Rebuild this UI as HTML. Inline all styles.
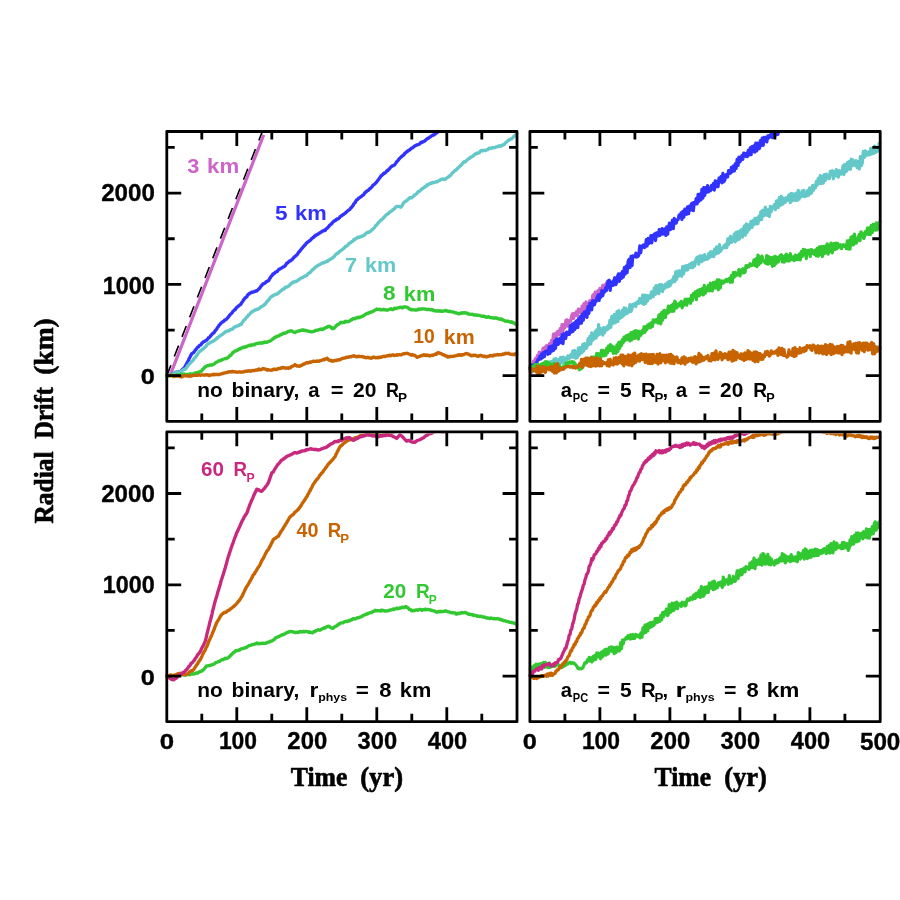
<!DOCTYPE html>
<html><head><meta charset="utf-8"><title>Radial Drift</title>
<style>html,body{margin:0;padding:0;background:#fff}svg{display:block}</style>
</head><body>
<svg width="900" height="900" viewBox="0 0 900 900">
<rect width="900" height="900" fill="#fff"/>
<defs><clipPath id="ctl"><rect x="165.40" y="133.10" width="353.00" height="288.20"/></clipPath><clipPath id="ctr"><rect x="528.50" y="133.10" width="353.10" height="288.20"/></clipPath><clipPath id="cbl"><rect x="165.40" y="433.50" width="353.00" height="288.20"/></clipPath><clipPath id="cbr"><rect x="528.50" y="433.50" width="353.10" height="288.20"/></clipPath></defs>
<g clip-path="url(#ctl)"><line x1="166.8" y1="375.7" x2="263.35" y2="129.0" stroke="#000" stroke-width="1.6" stroke-dasharray="11.7 9.4" stroke-dashoffset="0.5"/><line x1="169.9" y1="375.8" x2="263.7" y2="134.9" stroke="#cd64c8" stroke-width="3.2"/><polyline points="166.8,375.5 167.3,375.5 167.8,375.3 168.3,375.1 168.8,374.7 169.3,374.6 169.8,374.7 170.3,374.7 170.8,374.7 171.3,374.5 171.8,374.4 172.3,374.2 172.8,373.6 173.3,373.7 173.8,373.6 174.3,373.6 174.7,373.0 175.2,372.5 175.7,372.3 176.2,372.2 176.7,372.3 177.1,372.2 177.6,372.3 178.1,372.0 178.6,372.0 179.0,372.0 179.5,371.7 180.0,372.0 180.5,371.6 180.9,371.3 181.4,370.6 181.9,370.0 182.3,369.5 182.8,369.0 183.3,368.7 183.8,368.3 184.2,367.7 184.7,367.1 185.2,366.2 185.6,365.6 186.1,364.6 186.6,363.8 187.1,363.1 187.5,361.9 188.0,361.1 188.5,360.5 188.9,359.1 189.4,358.1 189.9,357.2 190.4,356.2 190.8,355.4 191.3,354.5 191.8,353.7 192.2,353.4 192.7,353.1 193.2,352.8 193.7,352.5 194.1,351.9 194.6,351.3 195.1,350.4 195.5,350.0 196.0,349.3 196.5,348.7 197.0,348.0 197.5,347.4 198.0,347.0 198.5,346.9 199.0,346.0 199.5,345.4 200.0,345.1 200.5,345.1 201.0,344.8 201.5,343.9 202.0,343.0 202.5,342.8 203.0,342.3 203.5,341.7 204.0,341.7 204.5,341.5 205.0,341.1 205.5,340.7 206.0,340.3 206.4,340.2 206.9,339.7 207.4,339.3 207.9,338.8 208.4,337.9 208.9,337.7 209.4,337.4 209.9,337.0 210.4,336.0 210.9,335.4 211.3,335.2 211.8,334.3 212.3,333.9 212.8,333.7 213.3,333.0 213.8,332.7 214.3,332.2 214.7,331.4 215.2,330.8 215.7,330.3 216.2,329.6 216.7,329.1 217.1,328.2 217.6,327.4 218.1,326.9 218.6,326.2 219.0,325.3 219.5,324.9 220.0,324.5 220.5,323.9 221.0,323.1 221.4,322.8 221.9,322.4 222.4,322.0 222.9,321.9 223.3,321.3 223.8,321.2 224.3,320.5 224.8,320.0 225.3,319.8 225.7,319.7 226.2,319.4 226.7,319.0 227.2,318.4 227.7,317.7 228.2,317.2 228.7,316.5 229.2,315.8 229.7,315.3 230.2,314.6 230.7,314.1 231.2,313.6 231.7,313.3 232.2,312.6 232.7,311.7 233.2,311.1 233.7,310.6 234.2,310.3 234.6,309.7 235.1,309.3 235.6,309.2 236.1,308.1 236.6,307.5 237.1,307.1 237.6,306.8 238.1,306.5 238.5,305.9 239.0,305.6 239.5,305.3 240.0,304.7 240.5,304.6 241.0,304.0 241.4,303.2 241.9,302.5 242.4,301.8 242.9,301.2 243.4,300.0 243.9,299.4 244.3,299.1 244.8,298.3 245.3,297.8 245.8,297.5 246.3,297.1 246.8,296.8 247.2,295.8 247.7,295.1 248.2,294.4 248.7,294.0 249.2,294.0 249.7,293.2 250.1,293.3 250.6,292.7 251.1,292.8 251.6,292.2 252.0,292.1 252.5,292.3 253.0,292.0 253.5,291.8 254.0,291.8 254.4,291.5 254.9,291.2 255.4,291.3 255.9,291.2 256.3,290.8 256.8,291.1 257.3,290.4 257.8,290.1 258.3,289.4 258.8,288.9 259.3,288.5 259.8,288.0 260.2,287.5 260.7,286.6 261.2,285.8 261.7,285.5 262.2,284.9 262.7,284.2 263.2,283.6 263.7,283.7 264.2,283.5 264.7,283.4 265.2,282.8 265.7,282.4 266.2,281.7 266.7,281.6 267.2,281.5 267.7,280.9 268.2,280.8 268.7,280.5 269.2,279.7 269.6,278.5 270.1,278.2 270.5,277.5 271.0,276.6 271.5,276.0 271.9,275.5 272.4,275.1 272.8,274.1 273.3,273.6 273.8,273.6 274.3,273.5 274.7,273.0 275.2,272.4 275.7,272.3 276.2,271.9 276.6,271.6 277.1,271.5 277.6,271.0 278.1,270.2 278.6,269.8 279.0,269.2 279.5,269.2 280.0,269.0 280.5,268.6 281.0,268.2 281.5,268.0 282.0,267.7 282.4,267.6 282.9,267.1 283.4,266.9 283.9,266.7 284.4,266.5 284.9,265.8 285.4,265.5 285.9,264.5 286.3,263.9 286.8,263.1 287.3,263.1 287.8,262.5 288.3,262.2 288.8,261.8 289.3,261.4 289.7,260.9 290.2,260.6 290.7,260.7 291.2,260.2 291.6,259.9 292.1,259.6 292.6,259.1 293.1,258.3 293.6,257.8 294.0,257.6 294.5,256.8 295.0,256.4 295.5,256.1 296.0,255.8 296.5,255.2 297.0,254.8 297.4,254.2 297.9,253.4 298.4,252.5 298.9,251.9 299.4,251.7 299.9,251.0 300.4,250.4 300.9,249.7 301.3,249.0 301.8,248.6 302.3,247.9 302.8,247.6 303.3,246.6 303.8,246.3 304.3,245.8 304.7,245.0 305.2,244.8 305.7,244.3 306.2,243.4 306.6,242.9 307.1,242.6 307.6,242.1 308.1,241.9 308.6,241.6 309.0,241.2 309.5,240.7 310.0,240.4 310.5,240.1 311.0,239.6 311.4,238.7 311.9,238.5 312.4,238.3 312.9,237.7 313.4,237.2 313.8,237.2 314.3,236.3 314.8,236.0 315.3,236.1 315.7,235.3 316.2,235.0 316.7,234.9 317.2,234.5 317.7,234.2 318.2,234.1 318.7,233.5 319.1,233.2 319.6,232.9 320.1,232.8 320.6,232.5 321.1,232.1 321.6,231.6 322.1,231.3 322.6,231.3 323.0,231.1 323.5,230.6 324.0,230.2 324.5,230.6 325.0,230.5 325.5,230.1 326.0,228.9 326.5,228.6 327.0,228.2 327.4,228.0 327.9,227.5 328.4,226.9 328.9,226.5 329.4,225.5 329.9,225.2 330.4,224.8 330.9,224.1 331.3,223.9 331.8,223.8 332.3,222.8 332.8,222.2 333.3,221.8 333.8,221.4 334.3,221.0 334.8,220.4 335.3,220.6 335.8,220.4 336.3,219.7 336.8,219.0 337.3,219.1 337.7,218.9 338.2,218.9 338.7,218.6 339.2,217.9 339.7,217.5 340.2,216.6 340.7,216.2 341.2,215.9 341.7,215.7 342.2,215.2 342.7,214.8 343.2,214.6 343.7,214.3 344.1,214.0 344.6,213.6 345.1,213.1 345.6,212.9 346.1,212.5 346.6,211.9 347.1,211.4 347.6,211.0 348.0,210.6 348.5,210.3 349.0,209.9 349.5,209.6 350.0,209.2 350.5,208.3 351.0,207.9 351.4,207.5 351.9,207.0 352.4,206.3 352.9,205.8 353.4,204.9 353.8,203.9 354.3,203.4 354.8,202.7 355.3,202.4 355.7,201.6 356.2,200.5 356.7,199.9 357.2,199.9 357.7,199.4 358.2,198.7 358.7,198.2 359.2,197.9 359.7,197.6 360.2,197.2 360.7,197.0 361.2,196.6 361.7,196.1 362.2,195.6 362.7,195.4 363.2,195.0 363.7,194.6 364.2,193.7 364.7,193.0 365.2,192.7 365.7,192.0 366.2,191.7 366.7,191.2 367.2,190.9 367.7,190.3 368.2,190.3 368.7,190.0 369.1,189.3 369.6,188.7 370.1,188.7 370.6,188.0 371.1,187.6 371.6,187.2 372.1,186.6 372.6,185.7 373.0,185.3 373.5,184.9 374.0,184.6 374.5,184.3 375.0,183.7 375.5,183.3 376.0,182.7 376.5,182.1 377.0,181.5 377.4,180.8 377.9,180.4 378.4,179.6 378.9,178.9 379.4,178.4 379.9,177.6 380.4,177.0 380.9,176.1 381.3,175.6 381.8,175.4 382.3,175.0 382.8,174.5 383.3,174.0 383.8,173.3 384.3,173.4 384.8,173.1 385.3,172.9 385.8,172.2 386.3,171.7 386.8,170.9 387.3,170.7 387.8,170.5 388.3,169.7 388.8,169.3 389.3,169.1 389.8,168.3 390.3,167.6 390.8,167.1 391.3,166.7 391.8,166.2 392.3,165.9 392.8,165.7 393.3,165.6 393.8,165.2 394.3,165.0 394.8,164.7 395.3,163.8 395.8,163.1 396.3,162.3 396.8,161.6 397.3,161.2 397.7,160.7 398.2,160.3 398.7,159.5 399.2,158.8 399.7,158.4 400.2,157.9 400.7,157.4 401.2,156.9 401.7,156.3 402.2,156.1 402.7,155.8 403.2,155.4 403.7,154.8 404.2,154.4 404.7,153.4 405.2,153.0 405.7,152.7 406.2,152.1 406.7,151.9 407.2,151.7 407.7,151.0 408.2,150.7 408.7,150.3 409.2,150.1 409.7,149.9 410.2,149.5 410.7,148.9 411.2,148.5 411.7,148.1 412.2,148.0 412.7,147.8 413.2,147.3 413.7,146.7 414.1,146.5 414.6,146.1 415.1,145.6 415.6,145.5 416.1,145.2 416.6,145.0 417.1,144.9 417.6,144.6 418.0,144.8 418.5,144.4 419.0,144.3 419.5,143.9 420.0,143.8 420.5,142.8 421.0,142.4 421.5,142.2 422.0,142.0 422.5,142.2 423.0,141.8 423.5,141.6 424.0,141.3 424.5,141.1 425.0,140.7 425.5,140.2 426.0,139.8 426.5,139.2 427.0,139.1 427.5,138.4 428.0,138.1 428.5,138.2 429.0,137.7 429.5,137.3 430.0,137.2 430.5,136.8 431.0,136.2 431.5,135.9 432.0,135.7 432.5,135.5 433.0,134.9 433.5,135.0 434.0,134.9 434.5,134.5 435.0,134.1 435.5,133.6 436.0,133.5 436.5,132.9 437.0,132.7 437.5,132.2 438.0,131.6 438.5,131.4 439.0,131.3 439.5,130.9 440.0,130.3 440.5,130.1 441.0,129.7" fill="none" stroke="#3232ff" stroke-width="3.35" stroke-linejoin="round" stroke-linecap="round"/><polyline points="166.8,375.7 167.3,375.2 167.8,375.6 168.3,375.4 168.8,375.2 169.3,374.8 169.8,374.7 170.3,374.4 170.8,374.4 171.3,374.4 171.8,374.3 172.3,374.3 172.8,373.9 173.3,374.2 173.8,373.8 174.3,373.3 174.8,373.1 175.3,372.9 175.8,372.6 176.3,372.5 176.8,372.5 177.3,372.1 177.8,372.0 178.3,372.3 178.8,372.3 179.3,372.0 179.8,371.9 180.3,371.7 180.8,371.5 181.3,371.5 181.8,371.1 182.3,370.3 182.8,370.1 183.3,369.6 183.8,369.6 184.2,369.2 184.7,369.0 185.2,369.2 185.7,368.6 186.2,368.1 186.7,367.5 187.2,366.5 187.7,365.7 188.2,365.4 188.7,364.9 189.2,364.1 189.7,363.4 190.2,363.2 190.7,362.6 191.2,361.9 191.7,361.4 192.2,361.0 192.7,360.7 193.2,360.1 193.7,359.2 194.2,358.4 194.7,358.0 195.2,357.6 195.7,356.8 196.1,356.2 196.6,355.6 197.1,355.0 197.6,354.2 198.1,353.4 198.6,352.7 199.0,351.9 199.5,351.7 200.0,351.3 200.5,350.6 201.0,350.6 201.4,350.3 201.9,349.4 202.4,349.4 202.9,349.1 203.3,349.0 203.8,348.2 204.3,347.8 204.8,347.4 205.3,346.9 205.7,346.5 206.2,346.2 206.7,345.3 207.2,344.7 207.6,344.1 208.1,343.8 208.6,343.5 209.1,343.3 209.5,343.1 210.0,342.9 210.5,342.4 210.9,342.0 211.4,342.0 211.9,341.8 212.4,341.5 212.8,341.1 213.3,341.1 213.8,340.5 214.3,340.3 214.7,340.2 215.2,339.7 215.7,339.4 216.2,338.8 216.7,338.6 217.1,338.3 217.6,337.5 218.1,337.4 218.6,336.8 219.0,336.8 219.5,336.3 220.0,335.9 220.5,335.7 221.0,335.3 221.4,335.0 221.9,334.5 222.4,334.4 222.9,334.0 223.3,333.7 223.8,332.8 224.3,332.8 224.8,332.5 225.3,331.8 225.7,331.6 226.2,331.5 226.7,331.4 227.2,330.9 227.6,331.0 228.1,330.7 228.6,331.0 229.1,330.6 229.5,330.4 230.0,330.0 230.5,329.4 230.9,329.4 231.4,329.3 231.9,329.3 232.4,329.2 232.8,328.6 233.3,328.0 233.8,327.6 234.3,327.2 234.8,326.8 235.3,326.8 235.8,326.7 236.3,326.4 236.8,326.2 237.3,325.9 237.8,325.7 238.3,325.7 238.8,325.6 239.3,325.1 239.8,324.5 240.3,324.6 240.8,324.4 241.3,324.3 241.8,323.2 242.3,322.5 242.8,321.9 243.3,320.9 243.8,320.3 244.3,319.9 244.8,319.5 245.3,319.1 245.8,318.3 246.3,317.4 246.8,317.0 247.3,316.7 247.8,316.2 248.2,315.3 248.7,314.9 249.2,314.6 249.7,314.1 250.2,313.4 250.7,312.9 251.2,312.7 251.6,312.2 252.1,311.5 252.6,311.4 253.1,311.2 253.5,311.0 254.0,310.9 254.5,310.4 254.9,310.1 255.4,309.8 255.9,309.6 256.4,309.7 256.8,309.2 257.3,309.4 257.8,309.2 258.3,308.9 258.8,308.6 259.3,308.5 259.8,308.0 260.3,307.5 260.8,306.8 261.3,306.6 261.8,306.5 262.3,306.3 262.8,306.0 263.3,305.5 263.8,305.2 264.3,304.5 264.8,304.5 265.3,304.0 265.8,303.2 266.3,302.5 266.8,301.7 267.3,301.4 267.8,301.1 268.2,300.1 268.7,299.8 269.2,299.4 269.7,298.6 270.2,297.6 270.7,296.9 271.2,296.6 271.7,296.6 272.1,296.3 272.6,295.7 273.1,295.6 273.6,295.2 274.1,295.3 274.6,294.9 275.0,294.6 275.5,294.3 276.0,294.1 276.5,294.2 277.0,294.1 277.5,293.8 278.0,293.5 278.5,292.8 279.0,292.4 279.5,292.0 280.0,291.5 280.5,291.4 281.0,290.9 281.5,290.4 282.0,289.9 282.5,289.2 283.0,289.2 283.5,289.2 284.0,288.9 284.5,288.4 285.0,287.4 285.5,287.3 286.0,287.3 286.5,287.0 287.0,286.9 287.5,286.8 288.0,286.6 288.5,286.0 289.0,285.8 289.5,285.4 290.0,284.6 290.5,284.2 291.0,283.6 291.5,283.3 292.0,283.2 292.5,282.7 293.0,282.0 293.5,282.2 294.0,282.0 294.5,282.0 295.0,281.4 295.5,281.3 296.0,281.5 296.5,281.5 297.0,280.9 297.5,280.6 298.0,280.1 298.5,279.9 299.0,279.7 299.5,279.3 300.0,278.6 300.5,278.5 301.0,278.0 301.5,277.8 302.0,277.6 302.5,277.6 303.0,277.4 303.5,276.9 304.0,276.6 304.5,276.6 305.0,276.1 305.5,275.8 306.0,275.7 306.5,275.5 307.0,275.2 307.5,274.4 308.0,273.7 308.5,273.4 309.0,273.0 309.5,273.1 310.0,272.4 310.4,272.2 310.9,271.8 311.4,270.9 311.9,270.3 312.4,269.9 312.9,269.4 313.4,269.0 313.9,268.7 314.4,268.2 314.9,267.9 315.4,267.3 315.8,266.8 316.3,266.6 316.8,266.1 317.3,265.8 317.8,265.7 318.3,265.2 318.8,264.9 319.3,264.8 319.8,264.4 320.2,264.4 320.7,263.8 321.2,263.7 321.7,263.3 322.2,262.9 322.7,263.1 323.2,262.6 323.7,262.7 324.1,262.5 324.6,262.5 325.1,261.9 325.6,261.9 326.1,261.8 326.6,261.4 327.1,261.0 327.6,261.2 328.1,260.9 328.5,260.4 329.0,259.9 329.5,259.7 330.0,259.5 330.5,259.1 331.0,259.0 331.5,258.5 332.0,258.1 332.5,258.0 333.0,257.2 333.5,257.0 334.0,256.9 334.5,256.1 335.0,255.4 335.5,254.8 336.0,254.1 336.5,254.0 337.0,253.3 337.5,253.1 338.0,253.2 338.5,252.5 339.0,252.1 339.5,251.4 340.0,251.3 340.5,250.8 341.0,250.4 341.5,250.1 342.0,249.9 342.5,249.4 343.0,249.1 343.5,248.5 344.0,248.2 344.5,247.5 345.0,247.2 345.5,246.4 346.0,246.1 346.5,246.2 347.0,245.8 347.5,245.1 348.0,244.8 348.5,244.2 349.0,243.5 349.5,243.1 350.0,243.0 350.5,242.8 351.0,242.4 351.4,241.9 351.9,241.4 352.4,241.4 352.9,241.1 353.4,240.6 353.8,239.8 354.3,239.3 354.8,239.7 355.3,239.1 355.7,238.8 356.2,238.5 356.7,238.1 357.2,237.9 357.6,237.5 358.1,237.2 358.6,237.5 359.1,237.2 359.5,237.2 360.0,236.7 360.5,236.5 360.9,236.5 361.4,236.6 361.9,236.1 362.4,236.1 362.8,236.0 363.3,235.7 363.8,235.5 364.3,235.0 364.7,234.6 365.2,234.4 365.7,233.5 366.2,233.4 366.6,233.0 367.1,232.6 367.6,232.4 368.1,232.4 368.6,232.1 369.0,232.2 369.5,231.7 370.0,231.2 370.5,231.2 371.0,230.8 371.4,230.5 371.9,229.8 372.4,229.5 372.9,229.0 373.4,228.6 373.8,228.1 374.3,227.8 374.8,227.1 375.3,226.4 375.7,225.6 376.2,225.4 376.7,224.8 377.2,224.1 377.7,223.5 378.2,223.0 378.7,222.3 379.2,221.9 379.7,221.4 380.2,220.9 380.7,220.3 381.2,220.0 381.7,219.5 382.2,219.1 382.7,218.8 383.2,218.4 383.7,217.4 384.2,216.9 384.7,216.4 385.2,216.2 385.7,215.4 386.2,214.9 386.7,214.5 387.2,214.1 387.7,214.0 388.2,213.5 388.7,213.4 389.2,212.6 389.7,211.9 390.2,211.9 390.7,211.6 391.2,211.3 391.7,210.9 392.2,210.6 392.7,209.9 393.2,209.7 393.7,209.1 394.2,209.0 394.7,208.5 395.2,207.6 395.7,207.0 396.2,207.0 396.7,206.5 397.2,206.5 397.6,206.6 398.1,206.5 398.5,206.4 399.0,206.5 399.4,206.6 399.9,206.9 400.3,206.9 400.8,207.3 401.3,206.7 401.8,206.1 402.3,205.2 402.8,204.2 403.3,203.2 403.8,202.7 404.3,202.1 404.8,201.8 405.3,201.3 405.8,201.4 406.3,201.1 406.8,200.6 407.3,199.9 407.7,199.6 408.2,199.3 408.7,198.8 409.2,198.4 409.7,197.7 410.2,197.8 410.7,197.6 411.2,198.0 411.7,197.6 412.2,197.2 412.6,197.0 413.1,196.6 413.6,196.1 414.1,195.6 414.5,195.0 415.0,194.9 415.5,194.6 415.9,194.5 416.4,193.9 416.9,193.3 417.4,192.6 417.8,192.4 418.3,191.6 418.8,191.4 419.3,191.2 419.8,191.1 420.3,190.4 420.8,190.2 421.3,189.6 421.8,189.0 422.3,188.4 422.8,188.3 423.3,188.3 423.8,187.7 424.3,187.2 424.8,186.7 425.3,186.9 425.8,186.7 426.3,186.0 426.8,185.2 427.3,184.7 427.8,184.6 428.3,184.7 428.8,184.4 429.3,184.0 429.7,183.8 430.2,183.3 430.7,183.4 431.2,183.1 431.6,183.3 432.1,182.8 432.6,182.5 433.1,182.6 433.6,182.4 434.0,182.5 434.5,182.5 435.0,182.1 435.5,182.1 436.0,182.1 436.4,181.5 436.9,181.8 437.4,181.7 437.9,181.6 438.4,180.9 438.9,180.6 439.4,180.3 439.8,180.4 440.3,179.9 440.8,179.6 441.3,179.1 441.8,179.2 442.3,179.3 442.8,179.0 443.3,178.9 443.8,179.1 444.3,179.5 444.8,179.5 445.3,179.3 445.8,179.0 446.3,178.4 446.8,177.9 447.3,177.6 447.8,177.2 448.3,177.1 448.8,176.7 449.3,176.0 449.8,175.9 450.3,175.6 450.8,175.1 451.3,174.4 451.8,173.5 452.3,172.9 452.8,172.8 453.3,172.2 453.8,171.5 454.3,171.1 454.8,170.8 455.3,170.5 455.8,170.1 456.3,169.9 456.8,169.1 457.3,168.8 457.8,168.0 458.3,167.7 458.8,167.2 459.3,166.7 459.8,166.4 460.3,165.8 460.8,165.5 461.3,165.0 461.8,164.5 462.3,163.7 462.8,163.0 463.3,162.4 463.8,162.0 464.3,161.7 464.8,162.1 465.3,161.7 465.8,161.4 466.3,160.8 466.8,160.2 467.3,159.8 467.7,159.5 468.2,158.9 468.7,158.9 469.2,158.4 469.7,158.3 470.2,157.4 470.7,157.1 471.2,156.9 471.7,156.6 472.2,156.5 472.7,156.2 473.2,156.0 473.7,155.2 474.2,154.8 474.7,154.1 475.2,154.1 475.7,154.0 476.2,153.7 476.7,153.3 477.2,153.0 477.7,153.2 478.2,153.3 478.7,152.9 479.2,152.8 479.7,152.0 480.2,151.3 480.7,151.0 481.2,150.6 481.7,150.3 482.2,150.3 482.7,151.0 483.1,150.6 483.6,150.5 484.1,150.4 484.6,150.3 485.1,150.4 485.6,150.6 486.1,150.1 486.5,150.0 487.0,149.8 487.5,149.7 488.0,149.2 488.5,148.8 488.9,148.3 489.4,148.5 489.9,148.6 490.4,148.6 490.9,148.0 491.4,148.0 491.9,147.9 492.3,147.7 492.8,147.5 493.3,147.8 493.8,147.8 494.3,147.7 494.8,147.6 495.3,147.3 495.8,147.1 496.3,147.0 496.8,146.9 497.3,146.7 497.8,146.4 498.3,146.2 498.8,145.9 499.3,146.2 499.8,146.0 500.3,145.8 500.8,146.0 501.3,146.0 501.8,145.2 502.3,145.1 502.8,144.9 503.3,145.0 503.8,144.8 504.3,144.4 504.8,143.6 505.3,143.0 505.8,142.6 506.3,142.4 506.8,141.7 507.3,141.3 507.7,140.9 508.2,140.6 508.7,140.4 509.2,140.0 509.7,139.4 510.2,139.4 510.7,139.4 511.2,138.9 511.7,138.7 512.2,138.3 512.6,137.9 513.1,137.4 513.5,136.7 514.0,136.3 514.4,136.0 514.9,135.3 515.3,135.2 515.8,135.1 516.2,134.9 516.6,134.7 517.0,134.2" fill="none" stroke="#64c8c8" stroke-width="3.35" stroke-linejoin="round" stroke-linecap="round"/><polyline points="166.8,375.7 167.3,375.5 167.8,375.8 168.3,375.9 168.8,375.6 169.3,375.8 169.8,375.5 170.3,375.6 170.8,375.4 171.3,375.3 171.8,375.4 172.3,375.5 172.8,375.7 173.3,375.4 173.8,375.7 174.3,375.9 174.8,375.7 175.3,375.7 175.8,375.3 176.3,375.2 176.8,374.9 177.3,374.9 177.8,374.9 178.3,375.2 178.8,375.3 179.3,375.3 179.8,375.1 180.3,374.9 180.8,374.8 181.3,374.8 181.8,374.3 182.3,374.5 182.8,374.1 183.3,374.1 183.8,374.1 184.3,374.0 184.8,374.4 185.3,374.4 185.8,374.6 186.3,374.8 186.8,374.5 187.3,374.5 187.8,374.6 188.3,374.4 188.8,374.3 189.3,374.1 189.8,374.0 190.3,373.9 190.8,373.8 191.3,374.0 191.8,374.2 192.3,374.1 192.8,374.0 193.3,374.1 193.8,373.7 194.3,373.3 194.8,373.4 195.3,373.0 195.8,373.1 196.3,372.7 196.8,372.9 197.3,372.5 197.8,372.5 198.3,372.6 198.8,372.2 199.3,372.3 199.8,371.9 200.3,371.4 200.8,371.4 201.3,371.4 201.8,370.9 202.3,369.8 202.8,369.4 203.3,368.9 203.8,368.4 204.2,368.0 204.7,367.2 205.2,366.7 205.7,366.7 206.2,366.5 206.7,365.9 207.2,365.6 207.6,365.6 208.1,365.7 208.6,365.6 209.1,365.2 209.5,365.1 210.0,365.0 210.5,365.1 210.9,365.2 211.4,365.0 211.9,365.1 212.4,364.7 212.8,364.8 213.3,364.4 213.8,364.2 214.3,364.0 214.7,363.5 215.2,363.1 215.7,362.5 216.2,362.3 216.7,362.1 217.1,361.9 217.6,361.8 218.1,361.1 218.6,361.0 219.0,360.9 219.5,360.7 220.0,360.6 220.5,360.8 221.0,360.4 221.5,360.0 222.0,359.7 222.5,359.5 223.0,359.5 223.5,359.1 224.0,359.1 224.5,358.6 225.0,358.6 225.5,358.5 226.0,358.4 226.5,358.6 227.0,358.1 227.5,357.8 228.0,357.6 228.5,357.3 229.0,356.5 229.4,356.1 229.9,355.5 230.4,355.2 230.9,355.1 231.3,354.6 231.8,354.1 232.3,353.6 232.8,352.5 233.3,352.4 233.7,352.1 234.2,351.7 234.7,351.2 235.2,350.9 235.7,350.7 236.2,350.8 236.7,350.5 237.2,350.6 237.7,349.8 238.2,349.5 238.7,349.5 239.2,349.3 239.7,348.8 240.2,348.5 240.7,348.7 241.2,348.2 241.7,347.9 242.2,347.6 242.7,347.4 243.2,347.5 243.7,347.5 244.2,347.0 244.7,347.2 245.2,346.9 245.7,346.7 246.2,346.9 246.7,346.7 247.2,346.3 247.7,346.0 248.2,345.8 248.7,345.5 249.2,345.3 249.7,345.5 250.2,345.4 250.7,345.0 251.2,345.5 251.6,345.1 252.1,344.9 252.6,344.8 253.1,344.8 253.5,344.5 254.0,344.5 254.5,344.7 254.9,344.5 255.4,344.0 255.9,343.9 256.4,343.6 256.8,343.3 257.3,343.3 257.8,343.3 258.3,343.2 258.8,343.3 259.3,343.2 259.8,342.9 260.3,343.1 260.8,343.0 261.3,343.2 261.8,343.0 262.3,343.1 262.8,343.1 263.3,342.4 263.8,342.2 264.3,342.0 264.8,342.5 265.3,342.1 265.8,342.2 266.3,342.3 266.7,342.2 267.2,342.2 267.7,341.8 268.2,341.6 268.6,341.4 269.1,341.3 269.6,341.2 270.1,340.9 270.6,340.6 271.0,340.3 271.5,340.2 272.0,339.6 272.5,339.1 273.0,338.9 273.5,338.5 274.0,338.3 274.5,337.5 275.0,337.3 275.5,337.1 276.0,337.1 276.5,336.5 277.0,336.3 277.5,336.2 278.0,336.1 278.5,336.0 279.0,335.9 279.5,335.3 280.0,335.1 280.5,334.8 281.0,334.4 281.5,334.6 282.0,334.2 282.5,333.8 283.0,333.5 283.5,333.2 284.0,333.3 284.5,333.2 285.0,333.2 285.5,333.0 286.0,332.6 286.5,332.6 287.0,332.2 287.5,331.8 288.0,331.6 288.5,331.4 289.0,331.5 289.5,331.1 290.0,330.9 290.5,331.1 291.0,330.9 291.5,330.9 292.0,331.1 292.5,331.5 293.0,331.7 293.5,332.0 294.0,332.2 294.5,332.3 295.0,332.5 295.5,332.2 296.0,331.8 296.4,331.7 296.9,331.4 297.4,331.3 297.9,331.2 298.4,331.1 298.8,331.1 299.3,330.9 299.8,330.8 300.3,330.4 300.7,330.5 301.2,330.3 301.7,330.4 302.2,329.9 302.7,330.0 303.2,330.3 303.7,330.0 304.2,330.2 304.7,330.4 305.2,330.6 305.7,330.5 306.2,330.7 306.7,330.9 307.2,330.8 307.7,331.1 308.2,331.2 308.7,331.3 309.2,331.3 309.7,331.5 310.2,331.6 310.7,331.8 311.2,331.9 311.7,331.8 312.2,331.6 312.7,331.7 313.2,331.4 313.7,331.3 314.2,331.3 314.7,331.1 315.2,330.4 315.7,330.4 316.2,330.4 316.7,330.3 317.2,330.1 317.7,330.3 318.2,330.1 318.7,329.8 319.2,329.6 319.7,329.6 320.2,329.3 320.7,329.0 321.2,329.4 321.7,329.5 322.2,329.5 322.7,329.4 323.2,329.2 323.7,328.4 324.2,328.4 324.7,328.4 325.2,328.1 325.7,327.4 326.2,327.4 326.7,327.4 327.2,327.0 327.7,326.7 328.2,326.6 328.7,326.3 329.2,326.2 329.7,326.5 330.1,326.9 330.6,327.2 331.1,327.2 331.6,327.3 332.0,328.4 332.5,328.7 333.0,328.6 333.5,328.4 334.0,328.2 334.5,327.8 335.0,327.2 335.5,326.7 336.0,325.9 336.5,325.5 337.0,325.4 337.5,324.6 338.0,324.4 338.5,324.3 339.0,324.2 339.5,323.6 340.0,323.2 340.5,322.6 341.0,322.4 341.5,322.4 342.0,322.8 342.5,322.4 343.0,322.5 343.5,322.4 344.0,322.1 344.5,322.4 345.0,321.5 345.5,321.4 346.0,321.3 346.5,321.6 347.0,321.7 347.5,321.9 348.0,321.5 348.5,321.4 349.0,321.3 349.5,321.0 350.0,320.7 350.5,320.4 351.0,320.0 351.5,319.5 352.0,319.8 352.5,319.4 353.0,318.7 353.5,318.7 354.0,318.6 354.5,318.5 355.0,318.7 355.5,318.4 356.0,318.2 356.5,317.8 357.0,317.6 357.5,317.4 358.0,317.3 358.5,317.8 359.0,317.6 359.5,317.1 360.0,317.3 360.5,317.1 361.0,316.9 361.5,316.6 362.0,316.4 362.4,316.2 362.9,316.1 363.4,315.8 363.9,315.7 364.4,315.1 364.9,314.7 365.4,314.2 365.9,314.1 366.3,314.0 366.8,313.5 367.3,313.3 367.8,313.6 368.3,313.4 368.8,312.8 369.3,312.6 369.8,312.5 370.3,312.2 370.8,312.1 371.3,312.1 371.8,311.9 372.3,311.4 372.7,311.4 373.2,311.2 373.7,311.0 374.2,310.7 374.7,310.3 375.2,309.9 375.7,309.8 376.2,309.6 376.7,309.0 377.2,309.4 377.7,309.3 378.2,309.3 378.7,309.6 379.2,309.2 379.7,309.6 380.2,309.5 380.7,309.8 381.2,309.7 381.7,309.9 382.2,309.9 382.7,309.9 383.2,309.6 383.7,309.3 384.2,309.5 384.7,309.9 385.2,309.8 385.7,310.0 386.2,310.0 386.7,310.1 387.2,310.2 387.7,309.8 388.2,309.8 388.7,309.7 389.2,309.5 389.7,309.3 390.2,309.1 390.7,308.9 391.2,308.7 391.7,309.3 392.2,309.6 392.7,309.5 393.2,309.5 393.7,309.1 394.2,308.4 394.7,308.1 395.2,308.2 395.7,308.6 396.2,308.5 396.7,308.3 397.2,308.2 397.7,308.0 398.1,307.7 398.6,307.7 399.1,307.6 399.6,307.5 400.1,307.3 400.5,307.1 401.0,307.3 401.5,307.6 402.0,307.4 402.4,307.9 402.9,307.3 403.4,307.3 403.9,307.0 404.4,306.9 404.8,306.8 405.3,306.9 405.8,307.0 406.3,307.1 406.8,307.1 407.3,307.4 407.8,307.8 408.3,307.9 408.8,308.4 409.2,309.0 409.7,308.9 410.2,309.3 410.7,309.7 411.2,309.5 411.7,309.9 412.2,309.8 412.7,309.5 413.2,309.9 413.7,309.9 414.1,309.8 414.6,309.8 415.1,310.0 415.6,310.1 416.1,310.1 416.6,310.1 417.1,309.7 417.6,309.6 418.0,309.6 418.5,309.0 419.0,309.5 419.5,309.4 420.0,309.2 420.5,308.9 421.0,309.0 421.5,309.1 422.0,309.0 422.4,309.0 422.9,308.9 423.4,308.8 423.9,308.9 424.4,308.9 424.9,309.1 425.4,309.1 425.9,309.2 426.3,309.3 426.8,309.5 427.3,309.6 427.8,309.5 428.3,309.4 428.8,309.3 429.3,309.4 429.8,309.7 430.3,309.8 430.8,309.8 431.3,309.7 431.8,309.5 432.3,309.8 432.7,310.3 433.2,310.5 433.7,310.3 434.2,310.4 434.7,310.7 435.2,310.6 435.7,310.9 436.2,311.0 436.7,311.0 437.2,310.8 437.7,311.0 438.2,311.1 438.7,310.9 439.2,310.8 439.7,311.0 440.2,311.1 440.7,311.0 441.2,311.4 441.7,311.2 442.2,310.9 442.7,311.2 443.2,311.1 443.7,311.1 444.2,311.0 444.7,310.8 445.2,310.5 445.7,310.5 446.2,310.9 446.7,310.6 447.2,311.1 447.7,311.3 448.2,311.1 448.7,311.4 449.2,311.6 449.7,311.6 450.2,311.3 450.7,311.6 451.2,311.6 451.7,311.9 452.2,311.8 452.7,312.0 453.2,312.1 453.7,312.1 454.2,312.3 454.7,312.6 455.2,312.8 455.7,312.8 456.2,313.1 456.7,313.0 457.2,313.2 457.7,313.3 458.2,313.7 458.7,313.7 459.1,313.7 459.6,313.6 460.1,313.5 460.6,313.0 461.1,313.3 461.6,313.3 462.1,313.1 462.6,312.7 463.0,313.0 463.5,313.0 464.0,312.6 464.5,312.7 465.0,313.0 465.5,313.0 466.0,313.1 466.5,313.1 467.0,313.0 467.5,313.4 468.0,314.1 468.5,314.1 469.0,314.0 469.5,314.2 470.0,314.1 470.5,314.3 471.0,314.5 471.5,314.3 472.0,314.2 472.5,314.3 473.0,314.6 473.5,314.8 474.0,315.1 474.5,314.9 475.0,315.1 475.5,315.0 476.0,315.2 476.5,315.3 476.9,315.2 477.4,315.2 477.9,315.1 478.4,315.3 478.9,315.3 479.4,315.4 479.9,315.6 480.4,315.6 480.9,316.0 481.3,315.9 481.8,316.2 482.3,316.4 482.8,316.2 483.3,316.3 483.8,316.2 484.3,316.3 484.8,316.4 485.2,316.9 485.7,316.9 486.2,317.3 486.7,317.4 487.2,317.1 487.7,316.7 488.1,317.0 488.6,316.7 489.1,317.0 489.6,317.4 490.1,317.6 490.6,317.6 491.1,317.6 491.5,317.7 492.0,317.7 492.5,317.7 493.0,317.7 493.5,318.1 493.9,318.0 494.4,318.2 494.9,318.0 495.4,318.0 495.9,317.8 496.4,318.0 496.9,318.3 497.3,318.5 497.8,318.4 498.3,318.7 498.8,318.7 499.3,319.0 499.8,319.1 500.3,319.4 500.8,318.9 501.3,318.9 501.8,319.3 502.3,319.4 502.7,320.1 503.2,320.1 503.7,320.1 504.2,320.5 504.7,320.7 505.2,321.1 505.7,321.2 506.2,321.1 506.7,321.3 507.2,321.2 507.7,321.2 508.1,321.2 508.6,321.3 509.1,321.7 509.6,321.7 510.1,321.9 510.5,322.0 511.0,322.3 511.5,321.8 512.0,322.1 512.4,322.3 512.9,322.3 513.4,322.8 513.9,323.0 514.4,323.5 514.8,323.8 515.3,324.0 515.8,324.0 516.2,323.8 516.6,323.9 517.0,323.9" fill="none" stroke="#32c832" stroke-width="3.35" stroke-linejoin="round" stroke-linecap="round"/><polyline points="166.8,376.1 167.3,376.1 167.8,375.8 168.3,375.8 168.8,375.4 169.3,375.4 169.8,375.2 170.3,375.7 170.8,375.6 171.3,375.2 171.8,375.5 172.3,375.8 172.8,375.8 173.3,376.4 173.8,376.5 174.3,376.5 174.8,376.3 175.3,375.7 175.8,375.9 176.3,376.2 176.8,376.1 177.3,375.9 177.8,376.0 178.3,375.7 178.8,375.9 179.3,376.2 179.8,376.6 180.3,376.6 180.8,376.7 181.3,376.8 181.8,377.0 182.3,376.8 182.8,376.4 183.3,376.1 183.8,375.8 184.3,375.7 184.8,375.7 185.3,375.8 185.8,375.9 186.3,375.9 186.8,375.8 187.3,375.9 187.8,376.0 188.3,376.1 188.8,376.3 189.3,376.1 189.8,375.9 190.3,376.2 190.8,376.0 191.3,376.0 191.8,375.7 192.3,375.8 192.8,375.6 193.3,375.3 193.8,375.3 194.3,375.2 194.8,375.4 195.2,375.3 195.7,375.3 196.2,375.2 196.7,375.3 197.2,375.2 197.7,375.4 198.2,375.1 198.7,375.0 199.1,374.9 199.6,375.1 200.1,375.2 200.6,375.3 201.1,375.2 201.6,375.0 202.1,374.8 202.5,374.8 203.0,374.8 203.5,374.9 204.0,375.1 204.5,375.3 205.0,375.1 205.5,374.9 206.0,374.6 206.4,374.6 206.9,374.7 207.4,375.1 207.9,375.0 208.4,375.3 208.9,375.5 209.4,375.0 209.9,375.1 210.4,375.1 210.9,375.2 211.3,374.9 211.8,374.9 212.3,374.6 212.8,374.4 213.3,374.3 213.8,374.7 214.3,374.5 214.7,374.7 215.2,374.6 215.7,374.4 216.2,374.5 216.7,374.6 217.1,374.5 217.6,374.6 218.1,374.5 218.6,374.4 219.0,374.5 219.5,374.5 220.0,374.4 220.5,373.9 221.0,373.9 221.5,373.9 222.0,373.7 222.4,373.6 222.9,373.2 223.4,373.2 223.9,373.2 224.4,373.1 224.9,372.8 225.4,372.7 225.9,372.6 226.4,372.7 226.9,372.5 227.3,372.4 227.8,372.0 228.3,372.0 228.8,372.1 229.3,371.7 229.8,371.8 230.3,371.9 230.8,371.8 231.2,371.5 231.7,371.9 232.2,371.5 232.7,371.6 233.2,371.5 233.7,371.9 234.2,371.7 234.7,371.8 235.1,371.9 235.6,372.0 236.1,371.9 236.6,372.0 237.1,372.1 237.6,372.3 238.1,372.1 238.5,372.1 239.0,372.0 239.5,371.8 240.0,371.9 240.5,372.0 241.0,372.2 241.5,372.0 241.9,372.0 242.4,372.1 242.9,372.0 243.4,371.8 243.9,371.8 244.4,371.5 244.9,371.2 245.3,371.4 245.8,371.4 246.3,371.3 246.8,371.0 247.3,371.0 247.8,371.2 248.3,370.9 248.8,370.6 249.2,370.9 249.7,371.1 250.2,371.3 250.7,371.0 251.2,371.0 251.7,370.7 252.1,370.7 252.6,370.5 253.1,370.5 253.6,370.7 254.1,370.6 254.6,370.4 255.0,370.3 255.5,370.2 256.0,370.0 256.5,370.0 257.0,370.0 257.4,370.2 257.9,369.6 258.4,369.3 258.9,369.0 259.4,369.3 259.9,369.8 260.3,369.7 260.8,369.6 261.3,369.7 261.8,369.1 262.3,369.1 262.8,368.5 263.2,368.7 263.7,368.7 264.2,368.8 264.7,369.0 265.2,369.0 265.6,369.3 266.1,369.4 266.6,369.5 267.1,370.0 267.6,369.8 268.1,370.0 268.6,369.7 269.0,370.0 269.5,370.1 270.0,370.1 270.5,370.1 271.0,370.3 271.5,370.3 272.0,370.1 272.5,369.8 273.0,369.9 273.5,369.3 274.0,369.1 274.5,369.1 275.0,369.2 275.5,369.5 276.0,369.7 276.5,369.5 277.0,369.3 277.5,368.8 278.0,368.7 278.5,368.7 279.0,368.5 279.5,368.4 280.0,368.5 280.5,368.2 281.0,368.0 281.5,367.7 282.0,368.0 282.5,367.7 283.0,367.4 283.5,367.7 284.0,367.7 284.5,367.9 285.0,367.8 285.5,368.2 286.0,368.3 286.5,368.2 287.0,368.1 287.5,367.9 288.0,368.0 288.5,368.3 289.0,368.0 289.5,367.7 290.0,367.7 290.5,367.7 291.0,367.0 291.5,366.7 292.0,366.2 292.5,366.2 293.0,366.1 293.5,365.7 294.0,365.3 294.5,365.3 295.0,364.6 295.5,365.0 295.9,365.2 296.4,365.8 296.9,366.1 297.3,366.0 297.8,366.0 298.3,366.1 298.7,366.0 299.2,366.2 299.7,366.2 300.2,365.7 300.6,365.5 301.1,365.6 301.6,365.6 302.1,365.1 302.6,364.8 303.0,364.4 303.5,363.9 304.0,364.1 304.5,364.0 304.9,363.6 305.4,363.2 305.9,363.0 306.4,362.8 306.9,363.1 307.3,362.8 307.8,362.6 308.3,362.7 308.8,362.7 309.3,362.5 309.8,361.9 310.3,362.2 310.8,362.2 311.3,362.0 311.8,361.9 312.3,361.6 312.8,361.4 313.3,361.1 313.8,361.2 314.3,361.3 314.8,361.3 315.3,361.4 315.8,361.4 316.3,361.3 316.8,361.0 317.3,361.1 317.8,361.2 318.3,361.2 318.8,361.3 319.3,361.0 319.8,360.6 320.3,360.7 320.8,360.4 321.3,360.4 321.8,360.2 322.3,360.1 322.7,359.9 323.2,359.7 323.7,359.3 324.2,359.7 324.7,359.6 325.2,359.1 325.7,358.9 326.2,358.7 326.7,358.6 327.2,358.3 327.7,358.9 328.1,359.5 328.6,359.7 329.1,360.1 329.6,360.4 330.1,360.3 330.6,360.7 331.1,360.5 331.5,360.6 332.0,360.8 332.5,361.3 333.0,361.2 333.5,361.0 334.0,360.7 334.4,360.6 334.9,360.4 335.4,360.4 335.9,360.6 336.4,360.5 336.9,360.2 337.3,360.0 337.8,360.1 338.3,359.9 338.8,359.6 339.3,359.8 339.8,359.8 340.2,359.6 340.7,359.2 341.2,358.8 341.7,358.8 342.2,358.5 342.7,358.5 343.1,358.2 343.6,358.1 344.1,358.1 344.6,358.0 345.1,357.9 345.6,357.8 346.1,357.5 346.5,357.1 347.0,357.1 347.5,357.4 348.0,357.3 348.5,357.0 348.9,356.8 349.4,356.7 349.9,356.9 350.4,356.7 350.9,356.7 351.4,356.7 351.9,356.5 352.3,356.2 352.8,356.1 353.3,355.9 353.8,356.1 354.3,355.8 354.8,356.2 355.3,356.4 355.8,356.5 356.3,356.8 356.8,356.9 357.3,356.4 357.7,356.5 358.2,356.6 358.7,356.5 359.2,356.3 359.7,356.5 360.2,356.6 360.7,356.6 361.2,356.6 361.7,356.5 362.2,356.5 362.7,356.7 363.2,357.0 363.7,356.8 364.1,356.9 364.6,357.4 365.1,357.5 365.6,357.6 366.1,357.8 366.6,357.7 367.1,357.5 367.6,357.3 368.0,357.2 368.5,357.5 369.0,357.9 369.5,357.9 370.0,357.9 370.5,358.1 371.0,358.2 371.5,358.2 372.0,357.7 372.5,357.6 373.0,357.1 373.5,357.3 374.0,357.2 374.5,357.1 375.0,357.6 375.5,357.8 376.0,357.8 376.5,357.8 377.0,357.7 377.5,357.5 378.0,357.4 378.5,357.8 379.0,357.5 379.5,357.2 380.0,357.2 380.5,357.3 381.0,357.4 381.5,357.0 382.0,356.9 382.5,356.8 383.0,356.4 383.5,356.4 384.0,356.3 384.5,356.5 385.0,356.5 385.5,356.2 386.0,356.2 386.5,356.0 387.0,355.8 387.5,355.7 388.0,355.9 388.5,355.8 389.0,355.3 389.5,355.2 390.0,355.4 390.5,355.8 391.0,355.5 391.5,355.3 392.0,355.2 392.4,354.9 392.9,355.0 393.4,355.0 393.9,355.0 394.4,355.5 394.9,355.3 395.4,355.3 395.9,355.4 396.3,355.1 396.8,354.8 397.3,355.1 397.8,355.1 398.3,355.0 398.8,354.6 399.3,354.6 399.8,354.6 400.3,354.9 400.8,354.9 401.3,354.8 401.8,354.6 402.3,354.3 402.7,354.0 403.2,353.9 403.7,353.7 404.2,353.7 404.7,353.7 405.2,353.6 405.7,353.3 406.2,353.3 406.7,353.4 407.2,353.3 407.7,353.5 408.2,353.8 408.7,354.0 409.2,354.2 409.7,354.3 410.2,354.4 410.7,354.9 411.2,355.3 411.7,355.1 412.2,354.6 412.7,355.0 413.2,355.1 413.7,355.2 414.2,355.1 414.7,355.5 415.2,355.8 415.7,356.0 416.2,356.4 416.7,357.2 417.2,357.2 417.6,357.2 418.1,356.8 418.6,356.7 419.1,356.4 419.5,356.4 420.0,356.3 420.5,356.0 420.9,355.9 421.4,355.5 421.9,355.5 422.4,355.6 422.8,355.2 423.3,355.1 423.8,354.7 424.3,355.0 424.7,355.3 425.2,355.0 425.7,355.5 426.2,355.5 426.6,355.1 427.1,355.0 427.6,355.3 428.1,355.3 428.6,355.7 429.0,355.4 429.5,355.5 430.0,355.9 430.5,355.5 431.0,355.5 431.5,355.3 432.0,355.2 432.4,355.1 432.9,355.4 433.4,354.8 433.9,354.8 434.4,354.8 434.9,354.3 435.4,354.1 435.9,354.4 436.3,354.4 436.8,353.4 437.3,353.2 437.8,352.7 438.3,352.7 438.8,352.8 439.3,353.0 439.8,353.1 440.3,353.5 440.8,353.6 441.3,353.7 441.8,354.0 442.3,354.4 442.8,354.4 443.3,355.0 443.8,354.8 444.3,355.2 444.8,355.3 445.3,355.9 445.8,356.0 446.3,356.0 446.8,356.0 447.3,356.7 447.8,357.0 448.3,356.9 448.8,356.8 449.3,356.5 449.8,356.8 450.3,356.8 450.8,356.3 451.3,356.3 451.8,356.4 452.3,356.4 452.8,356.4 453.3,356.2 453.8,356.2 454.3,356.1 454.8,355.8 455.3,355.8 455.8,355.8 456.3,355.7 456.8,355.4 457.3,355.2 457.8,355.2 458.3,355.3 458.8,354.7 459.3,354.7 459.8,355.0 460.3,355.2 460.8,354.9 461.3,355.2 461.8,354.8 462.3,354.6 462.7,355.0 463.2,354.8 463.7,354.6 464.2,354.2 464.7,354.0 465.2,353.8 465.7,353.8 466.2,353.5 466.7,353.8 467.2,353.9 467.7,353.9 468.2,354.0 468.7,354.3 469.2,354.8 469.7,354.7 470.2,355.1 470.7,355.5 471.2,355.7 471.7,355.7 472.2,355.3 472.7,355.5 473.2,355.4 473.7,355.5 474.2,355.1 474.7,355.2 475.2,355.4 475.7,355.3 476.2,355.5 476.7,356.0 477.2,356.0 477.7,355.9 478.2,356.4 478.7,355.8 479.2,355.7 479.7,355.8 480.2,355.7 480.7,355.3 481.2,355.5 481.7,355.8 482.2,355.7 482.7,356.1 483.2,356.2 483.7,356.5 484.2,356.1 484.7,356.1 485.2,356.5 485.7,356.8 486.2,357.0 486.7,356.8 487.2,356.7 487.7,356.4 488.2,356.5 488.7,356.3 489.2,356.2 489.7,355.7 490.2,355.4 490.7,355.9 491.2,355.9 491.7,355.9 492.2,355.4 492.7,355.4 493.2,355.9 493.7,355.5 494.2,355.0 494.7,355.1 495.2,355.1 495.7,355.1 496.2,354.9 496.7,354.7 497.2,354.5 497.7,354.8 498.2,354.8 498.7,355.0 499.2,354.7 499.7,354.8 500.2,354.7 500.7,354.6 501.2,354.8 501.7,354.7 502.2,354.5 502.7,354.0 503.2,354.1 503.7,354.2 504.2,354.0 504.7,353.9 505.2,353.5 505.7,353.2 506.2,353.4 506.7,353.6 507.2,353.6 507.7,353.4 508.1,353.4 508.6,353.2 509.1,353.4 509.6,354.0 510.1,354.1 510.5,354.1 511.0,354.4 511.5,354.3 512.0,354.4 512.4,354.5 512.9,354.6 513.4,354.3 513.9,354.5 514.4,354.8 514.8,354.3 515.3,353.8 515.8,353.9 516.2,354.4 516.6,354.4 517.0,354.6" fill="none" stroke="#c86400" stroke-width="3.35" stroke-linejoin="round" stroke-linecap="round"/></g>
<g clip-path="url(#ctr)"><polyline points="529.9,366.5 530.8,372.7 531.7,364.6 532.6,371.6 533.5,361.2 534.5,368.0 535.4,358.5 536.4,365.4 537.3,355.7 538.3,359.7 539.2,352.2 540.2,358.3 541.1,352.3 542.0,356.4 543.0,348.3 543.9,356.5 544.9,347.1 545.8,351.4 546.8,345.4 547.7,349.8 548.7,348.1 549.6,343.6 550.6,344.7 551.6,340.3 552.5,342.7 553.5,334.2 554.5,341.9 555.4,333.5 556.4,340.6 557.3,331.5 558.3,331.3 559.2,334.6 560.2,328.6 561.1,333.1 562.0,324.6 563.0,331.0 563.9,324.6 564.9,327.8 565.9,320.4 566.8,319.8 567.8,326.1 568.8,320.7 569.8,321.9 570.7,320.9 571.7,315.5 572.6,313.7 573.6,318.4 574.5,313.4 575.5,315.3 576.4,311.7 577.4,315.9 578.3,309.2 579.3,312.0 580.2,309.4 581.2,313.2 582.1,306.2 583.1,311.2 584.0,303.7 585.0,311.4 586.0,301.9 586.9,309.7 587.9,303.4 588.8,305.6 589.8,300.7 590.7,305.3 591.7,305.2 592.6,295.7 593.5,294.6 594.3,302.4 595.2,292.0 596.1,297.3 597.1,291.6 598.0,290.7 599.0,293.4 599.9,288.3 600.9,290.9 601.8,292.0 602.8,285.3 603.7,287.7 604.6,285.2 605.5,285.9 606.5,283.4 607.4,281.3 608.3,285.1" fill="none" stroke="#cd64c8" stroke-width="3.20" stroke-linejoin="round" stroke-linecap="round"/><polyline points="529.9,367.9 530.7,366.4 531.5,370.5 532.2,365.3 533.0,369.4 533.8,364.9 534.5,364.9 535.3,363.9 536.1,363.0 537.0,362.0 538.0,359.3 538.9,359.6 539.8,356.5 540.8,359.0 541.7,353.8 542.6,357.8 543.5,352.7 544.5,356.6 545.4,351.4 546.3,353.1 547.2,350.8 548.1,354.3 549.1,346.8 550.0,353.3 550.9,346.3 551.9,351.2 552.8,345.6 553.7,350.3 554.6,341.2 555.5,348.4 556.5,339.1 557.4,339.8 558.3,344.5 559.2,339.3 560.2,338.2 561.1,342.7 562.0,334.9 563.0,343.6 563.9,333.5 564.8,338.5 565.7,338.4 566.6,332.2 567.6,334.8 568.5,332.2 569.4,334.4 570.3,325.7 571.3,332.2 572.2,324.2 573.1,331.4 574.1,323.0 575.0,329.4 575.9,321.7 576.9,320.6 577.8,327.5 578.7,318.6 579.7,323.5 580.6,316.3 581.5,323.2 582.4,314.2 583.4,320.1 584.3,312.0 585.2,315.2 586.1,311.2 587.0,317.4 588.0,306.5 588.9,313.4 589.8,303.6 590.8,303.0 591.7,309.8 592.6,300.8 593.5,300.9 594.5,304.8 595.4,300.7 596.3,301.2 597.2,296.9 598.1,295.1 599.1,300.5 600.0,294.3 600.9,297.2 601.9,290.6 602.8,295.7 603.7,291.2 604.6,291.9 605.5,288.0 606.5,290.5 607.4,283.7 608.3,280.9 609.2,280.1 610.2,290.4 611.1,282.1 612.0,282.1 613.0,285.4 613.9,280.0 614.8,277.7 615.7,284.7 616.6,282.9 617.6,276.1 618.5,273.8 619.4,281.4 620.4,273.9 621.3,278.5 622.3,271.7 623.3,277.2 624.3,267.6 625.2,274.1 626.2,266.1 627.1,272.6 628.1,261.2 629.0,259.5 630.0,267.6 631.0,256.4 632.0,265.6 632.9,255.9 633.9,256.5 634.9,256.8 635.9,253.1 636.8,257.0 637.8,256.6 638.8,255.2 639.8,245.8 640.7,252.7 641.7,246.1 642.6,247.5 643.5,244.9 644.5,247.5 645.4,246.7 646.3,239.7 647.2,245.8 648.2,238.3 649.1,243.4 650.0,242.2 650.9,235.6 651.8,242.8 652.8,235.4 653.7,238.4 654.6,233.8 655.5,240.6 656.5,232.9 657.4,232.9 658.3,235.9 659.2,229.7 660.2,235.3 661.1,230.8 662.0,228.6 663.0,234.2 663.9,230.5 664.8,228.8 665.8,235.5 666.7,226.9 667.6,234.2 668.6,226.8 669.5,223.1 670.5,229.6 671.4,227.7 672.4,220.3 673.3,228.6 674.3,218.4 675.2,223.3 676.2,223.1 677.1,219.9 678.1,219.6 679.0,215.2 680.0,216.6 681.0,213.0 681.9,219.5 682.9,211.3 683.8,217.2 684.8,209.1 685.7,209.2 686.7,214.3 687.6,206.8 688.6,213.7 689.5,206.1 690.5,210.1 691.4,203.7 692.4,203.0 693.3,210.7 694.3,202.4 695.2,203.8 696.2,198.5 697.1,203.9 698.1,194.4 699.0,201.3 700.0,194.1 701.0,199.9 701.9,189.4 702.9,198.1 703.8,187.7 704.8,195.3 705.7,187.5 706.7,192.3 707.6,185.5 708.6,191.8 709.5,188.3 710.5,190.7 711.4,185.6 712.4,189.2 713.3,183.6 714.3,190.1 715.2,180.8 716.2,186.8 717.1,181.3 718.1,186.7 719.0,178.1 720.0,181.5 721.0,176.7 721.9,182.8 722.9,173.3 723.8,181.8 724.8,180.1 725.7,175.1 726.7,174.4 727.6,177.1 728.6,170.6 729.5,171.9 730.5,173.2 731.4,167.3 732.4,171.8 733.3,166.0 734.3,171.0 735.2,163.9 736.2,168.4 737.1,159.3 738.1,165.5 739.0,157.0 740.0,161.8 740.9,159.6 741.8,155.7 742.8,159.4 743.7,153.0 744.6,153.5 745.5,156.3 746.5,153.5 747.4,156.6 748.3,150.3 749.2,154.9 750.2,147.9 751.1,154.7 752.0,146.6 753.0,151.3 753.9,145.8 754.8,152.2 755.8,143.0 756.7,151.0 757.6,143.2 758.5,148.9 759.5,148.3 760.4,140.6 761.3,145.6 762.2,138.2 763.2,145.4 764.1,137.4 765.0,140.9 765.9,137.4 766.8,142.0 767.8,135.9 768.7,138.1 769.6,135.5 770.5,136.9 771.5,133.1 772.4,137.6 773.3,129.4 774.2,130.4 775.2,133.7 776.1,135.0 777.1,127.3 778.0,134.3 779.0,124.1" fill="none" stroke="#3232ff" stroke-width="3.20" stroke-linejoin="round" stroke-linecap="round"/><polyline points="529.9,369.6 530.8,369.6 531.7,367.5 532.6,368.5 533.6,367.7 534.5,367.2 535.4,365.1 536.4,367.0 537.3,364.8 538.2,366.2 539.1,365.8 540.1,367.9 541.0,365.3 542.0,367.2 543.0,363.9 544.0,362.7 545.0,366.9 546.0,362.3 547.0,365.2 548.0,362.9 549.0,366.7 550.0,361.9 551.0,364.8 552.0,361.5 553.0,364.1 554.0,359.1 555.0,364.2 555.9,358.5 556.9,366.6 557.8,363.9 558.7,359.6 559.7,363.2 560.6,357.3 561.5,358.5 562.5,363.2 563.4,357.0 564.4,362.7 565.3,358.3 566.3,360.3 567.2,357.2 568.1,355.8 569.1,358.4 570.0,357.8 570.9,354.7 571.9,357.1 572.8,351.0 573.7,357.2 574.6,350.3 575.5,358.2 576.5,357.7 577.4,357.7 578.3,348.2 579.2,355.2 580.1,347.6 581.0,352.8 581.9,352.8 582.8,344.3 583.7,351.1 584.6,343.7 585.4,348.3 586.3,348.3 587.2,346.3 588.1,338.5 589.0,344.4 589.9,336.3 590.8,344.0 591.7,332.8 592.6,340.2 593.5,334.0 594.3,338.9 595.2,331.4 596.1,337.8 596.9,329.7 597.8,335.5 598.6,324.7 599.4,334.5 600.2,328.0 601.1,333.7 601.9,329.2 602.8,335.1 603.7,327.5 604.6,332.7 605.4,327.8 606.3,327.8 607.2,329.9 608.1,325.5 609.0,328.3 609.9,320.4 610.8,327.3 611.7,316.7 612.6,323.7 613.5,316.6 614.3,314.4 615.2,322.8 616.1,321.6 617.0,311.7 617.9,321.5 618.8,310.6 619.7,318.5 620.6,316.5 621.5,317.4 622.4,310.4 623.2,316.2 624.1,307.9 625.0,314.3 626.0,308.4 627.0,313.5 628.0,312.0 629.0,312.0 630.0,304.7 631.0,311.5 631.9,309.2 632.9,304.4 633.8,305.6 634.8,303.7 635.7,306.6 636.7,302.5 637.7,301.6 638.7,303.4 639.7,298.3 640.7,302.6 641.7,303.0 642.7,295.0 643.7,304.4 644.7,295.2 645.7,303.3 646.7,295.3 647.6,301.0 648.6,296.1 649.5,295.5 650.5,298.2 651.4,291.9 652.4,295.3 653.3,296.7 654.2,288.2 655.2,294.5 656.1,285.6 657.0,292.9 658.0,285.5 658.9,293.7 659.8,284.5 660.8,290.1 661.7,284.5 662.6,291.6 663.5,285.7 664.5,288.6 665.4,284.4 666.3,287.0 667.2,282.9 668.2,286.8 669.1,281.4 670.0,285.8 671.0,283.8 671.9,280.1 672.9,281.8 673.8,276.7 674.8,281.7 675.7,271.9 676.7,279.4 677.7,271.1 678.7,276.1 679.7,270.9 680.7,273.2 681.7,276.3 682.7,266.5 683.7,273.9 684.7,266.1 685.7,270.2 686.7,265.6 687.7,270.0 688.7,265.0 689.7,264.2 690.7,267.5 691.7,262.8 692.7,267.8 693.7,262.4 694.7,266.1 695.7,260.3 696.7,257.7 697.7,257.0 698.7,264.2 699.7,256.1 700.7,255.8 701.7,261.7 702.7,255.8 703.7,260.2 704.7,254.5 705.7,259.5 706.7,257.9 707.7,259.1 708.7,253.6 709.7,257.5 710.7,251.5 711.7,256.3 712.7,251.8 713.7,256.8 714.7,249.0 715.7,254.0 716.7,246.8 717.6,253.1 718.5,253.0 719.5,244.6 720.4,251.4 721.3,249.9 722.2,248.0 723.2,247.9 724.1,245.7 725.0,247.7 725.9,244.1 726.8,247.5 727.8,238.9 728.7,244.4 729.6,238.6 730.5,236.3 731.5,242.4 732.4,240.3 733.3,240.6 734.2,234.2 735.2,241.9 736.1,232.3 737.0,240.2 738.0,231.7 738.9,239.4 739.8,237.9 740.8,230.2 741.7,229.7 742.6,237.1 743.5,228.4 744.5,225.9 745.4,235.2 746.3,223.8 747.2,232.3 748.2,224.9 749.1,229.8 750.0,226.6 751.0,221.4 752.0,227.5 753.0,220.7 754.0,224.6 755.0,218.3 756.0,224.0 757.0,218.2 758.0,223.6 759.0,216.1 760.0,219.8 760.8,211.8 761.6,219.6 762.5,210.3 763.3,213.3 764.3,215.5 765.3,207.1 766.3,214.3 767.3,215.2 768.3,209.7 769.3,216.5 770.3,206.4 771.3,211.7 772.3,206.8 773.3,207.9 774.3,204.7 775.3,209.7 776.3,201.1 777.3,200.8 778.3,207.7 779.3,197.6 780.3,205.4 781.3,196.3 782.3,204.4 783.3,203.6 784.3,198.2 785.3,202.3 786.3,197.8 787.3,200.3 788.3,196.4 789.3,194.6 790.3,202.7 791.3,193.4 792.3,200.8 793.3,193.8 794.3,194.4 795.3,200.5 796.3,193.2 797.3,200.3 798.3,190.3 799.2,199.1 800.2,193.7 801.1,196.7 802.0,191.0 803.0,196.3 803.9,190.3 804.8,196.6 805.8,192.8 806.7,195.9 807.7,190.4 808.7,195.3 809.7,187.8 810.7,193.4 811.7,192.7 812.6,185.5 813.6,190.2 814.5,185.1 815.5,187.7 816.4,181.4 817.4,185.1 818.3,178.3 819.3,183.4 820.3,175.7 821.3,183.6 822.3,176.4 823.3,183.1 824.3,174.7 825.3,180.5 826.3,174.2 827.3,178.2 828.3,175.1 829.3,178.8 830.3,171.3 831.3,171.8 832.3,170.7 833.3,178.8 834.3,171.5 835.3,175.8 836.3,169.5 837.3,176.1 838.3,177.1 839.2,170.7 840.2,171.8 841.1,174.2 842.0,172.7 843.0,165.9 843.9,174.5 844.8,164.4 845.8,171.6 846.7,170.8 847.6,162.3 848.6,169.1 849.5,161.3 850.5,169.3 851.4,159.1 852.4,165.5 853.3,160.2 854.3,164.6 855.3,165.5 856.3,160.7 857.3,167.7 858.3,161.7 859.3,169.0 860.3,156.6 861.3,165.7 862.3,163.0 863.3,151.4 864.2,157.4 865.2,150.9 866.1,155.6 867.0,152.2 868.0,155.1 868.9,152.0 869.8,154.8 870.8,148.3 871.7,154.0 872.6,148.5 873.6,153.4 874.5,146.1 875.5,152.4 876.4,147.3 877.3,147.7 878.3,151.3 879.2,143.4 880.2,143.1" fill="none" stroke="#64c8c8" stroke-width="3.20" stroke-linejoin="round" stroke-linecap="round"/><polyline points="529.9,367.6 530.8,371.0 531.7,366.8 532.6,371.0 533.4,366.2 534.3,370.0 535.1,364.4 536.0,368.7 537.0,369.1 537.9,364.4 538.9,368.4 539.8,365.3 540.8,364.8 541.7,363.8 542.7,363.7 543.6,366.6 544.6,363.0 545.5,361.6 546.5,366.9 547.5,361.8 548.4,366.5 549.4,363.3 550.4,365.7 551.4,365.8 552.3,364.3 553.3,365.9 554.3,363.5 555.2,364.9 556.2,364.4 557.2,364.7 558.1,364.5 559.1,365.0 560.0,366.9 560.9,367.6 561.9,368.0 562.8,367.1 563.6,366.3 564.5,366.0 565.3,366.5 566.1,363.5 566.9,364.4 567.8,362.8 568.6,363.5 569.4,361.8 570.3,362.7 571.2,362.8 572.1,361.5 573.0,363.3 573.9,362.0 574.7,363.7 575.5,364.1 576.3,365.5 577.1,365.9 577.8,367.4 578.6,368.1 579.4,369.7 580.2,368.6 581.1,368.8 581.9,368.2 582.8,366.7 583.7,365.4 584.6,362.3 585.5,362.7 586.4,358.3 587.4,362.9 588.3,358.2 589.2,360.1 590.2,360.7 591.1,357.4 592.0,359.7 593.0,357.1 593.9,360.3 594.9,357.1 595.8,359.3 596.8,353.3 597.7,357.8 598.7,353.7 599.6,356.6 600.6,357.8 601.5,350.3 602.4,355.7 603.2,350.3 604.1,355.9 605.0,351.3 605.9,355.2 606.8,348.0 607.6,352.7 608.5,346.0 609.4,350.7 610.4,344.6 611.3,350.4 612.3,346.2 613.2,353.4 614.2,347.0 615.1,351.3 616.1,353.4 617.0,344.9 617.9,351.5 618.8,342.4 619.7,348.3 620.6,341.9 621.5,345.5 622.4,339.7 623.2,342.7 624.1,337.1 625.0,340.6 626.0,335.9 627.0,335.5 628.0,339.5 629.0,334.7 630.0,340.9 631.0,332.6 631.9,339.8 632.9,332.9 633.8,331.5 634.8,338.4 635.7,330.7 636.7,337.9 637.5,331.2 638.4,339.1 639.2,331.4 640.0,335.9 641.0,335.0 642.0,330.8 643.0,333.0 644.0,326.9 645.0,332.2 645.9,326.6 646.8,329.6 647.8,324.8 648.7,327.7 649.6,324.0 650.5,327.8 651.5,322.6 652.4,326.5 653.3,319.8 654.2,321.4 655.2,322.1 656.1,319.6 657.0,321.7 658.0,323.1 658.9,315.2 659.8,314.4 660.8,323.8 661.7,312.6 662.6,320.2 663.6,310.8 664.5,310.4 665.5,317.4 666.4,310.9 667.4,313.5 668.3,306.1 669.2,312.1 670.2,307.6 671.1,305.7 672.0,311.3 673.0,304.0 673.9,311.2 674.8,301.2 675.8,302.7 676.7,307.9 677.6,304.6 678.5,306.1 679.5,303.2 680.4,305.8 681.3,301.3 682.2,307.9 683.2,303.2 684.1,305.1 685.0,299.4 685.9,299.4 686.8,305.2 687.8,299.0 688.7,301.9 689.6,299.2 690.5,303.3 691.5,295.3 692.4,300.6 693.3,293.7 694.3,296.5 695.3,291.8 696.3,299.7 697.3,290.9 698.3,290.1 699.3,295.8 700.3,289.3 701.3,294.1 702.3,288.6 703.3,295.0 704.3,285.4 705.3,293.1 706.3,291.4 707.3,288.0 708.3,285.5 709.3,290.9 710.3,283.2 711.3,290.5 712.3,290.9 713.3,282.7 714.3,288.1 715.3,282.0 716.3,288.0 717.3,279.9 718.3,289.8 719.3,279.9 720.3,288.0 721.3,281.2 722.3,281.1 723.3,283.0 724.3,281.0 725.3,281.7 726.3,279.4 727.3,281.3 728.3,279.3 729.3,278.4 730.3,282.3 731.3,275.7 732.3,282.2 733.3,272.6 734.3,277.3 735.2,272.4 736.2,275.6 737.1,273.3 738.1,274.5 739.0,269.6 740.0,276.0 741.0,270.0 742.0,272.9 743.0,268.7 744.0,272.8 745.0,272.2 746.0,265.5 747.0,267.6 748.0,265.6 749.0,266.8 750.0,263.7 751.0,264.5 752.0,265.5 753.0,264.8 754.0,259.8 755.0,265.6 756.0,258.9 757.0,266.7 758.0,255.0 759.0,264.6 760.0,257.0 761.0,262.7 762.0,256.2 763.0,260.6 764.0,261.0 765.0,262.7 765.9,263.3 766.8,255.5 767.8,264.2 768.7,256.7 769.6,257.1 770.5,263.4 771.5,257.9 772.4,266.3 773.3,257.0 774.3,265.5 775.3,256.3 776.3,263.3 777.3,257.3 778.3,262.0 779.3,256.9 780.3,255.6 781.3,254.8 782.3,261.9 783.3,256.6 784.3,262.1 785.3,255.8 786.3,254.1 787.3,260.9 788.3,255.7 789.3,261.0 790.3,253.7 791.3,259.4 792.3,259.6 793.3,256.9 794.3,260.5 795.3,255.0 796.3,259.7 797.3,255.7 798.3,259.5 799.3,254.0 800.3,259.9 801.3,251.6 802.3,256.4 803.3,249.3 804.3,255.0 805.3,249.8 806.3,258.6 807.3,250.5 808.3,250.8 809.3,250.1 810.3,256.4 811.3,249.5 812.3,250.5 813.3,253.5 814.3,254.3 815.3,250.1 816.3,256.0 817.3,248.4 818.3,256.1 819.3,246.8 820.3,254.4 821.3,246.7 822.3,256.7 823.3,246.5 824.3,253.6 825.2,246.3 826.2,252.8 827.2,243.8 828.2,254.1 829.1,245.2 830.1,251.5 831.1,243.1 832.1,252.9 833.0,250.2 834.0,243.5 835.0,249.5 835.9,243.0 836.8,248.8 837.8,243.3 838.7,247.4 839.6,245.3 840.5,244.8 841.5,248.7 842.4,245.7 843.3,244.7 844.3,246.2 845.3,245.2 846.3,248.6 847.3,240.9 848.3,249.0 849.1,240.6 850.0,249.2 850.9,237.4 851.7,244.6 852.6,236.4 853.5,244.8 854.5,234.0 855.4,243.0 856.3,243.2 857.2,240.8 858.2,237.2 859.1,234.7 860.0,240.7 860.9,231.8 861.8,232.7 862.8,233.6 863.7,238.5 864.6,236.4 865.5,231.7 866.5,233.8 867.4,228.1 868.3,234.5 869.3,227.9 870.3,234.6 871.3,225.3 872.3,232.5 873.3,224.4 874.2,224.9 875.2,230.1 876.2,222.9 877.2,229.9 878.2,223.2 879.2,225.9 880.2,221.4" fill="none" stroke="#32c832" stroke-width="3.20" stroke-linejoin="round" stroke-linecap="round"/><polyline points="529.9,367.3 530.6,371.9 531.5,368.8 532.5,368.9 533.4,369.3 534.3,370.5 535.2,369.5 536.2,371.9 537.1,366.3 538.0,374.4 538.9,366.4 539.9,373.5 540.8,368.0 541.7,372.0 542.6,366.7 543.6,371.2 544.5,367.1 545.4,372.4 546.3,367.7 547.2,369.0 548.2,368.1 549.1,369.6 550.0,367.1 550.9,370.1 551.9,366.2 552.8,371.7 553.7,367.2 554.6,373.2 555.5,364.9 556.5,372.8 557.4,363.5 558.3,371.2 559.2,370.6 560.1,368.1 561.0,369.6 561.9,369.4 562.8,368.2 563.7,369.1 564.6,367.5 565.4,367.6 566.3,366.8 567.2,366.5 568.1,366.7 569.1,366.7 570.0,367.2 570.9,366.1 571.9,366.6 572.8,367.5 573.7,366.3 574.6,366.8 575.4,368.0 576.3,367.5 577.2,367.5 578.1,365.7 578.9,365.8 579.8,363.4 580.6,366.1 581.5,359.3 582.4,367.3 583.2,366.0 584.1,359.2 585.0,364.6 586.0,358.0 586.9,365.3 587.9,358.4 588.8,366.2 589.8,359.2 590.7,366.7 591.7,357.4 592.7,365.8 593.7,365.2 594.7,358.7 595.7,366.2 596.6,357.9 597.6,365.6 598.6,359.2 599.6,365.8 600.6,359.1 601.6,366.0 602.5,361.6 603.5,363.7 604.5,362.7 605.4,363.8 606.4,362.8 607.3,365.7 608.3,359.9 609.3,366.2 610.2,359.3 611.2,363.1 612.2,364.6 613.2,365.0 614.1,358.0 615.1,363.7 616.1,357.5 617.1,364.1 618.1,363.5 619.0,357.4 620.0,362.3 621.0,355.2 622.0,363.9 622.9,355.2 623.8,365.9 624.7,363.4 625.6,356.3 626.5,362.1 627.4,364.5 628.3,354.8 629.2,365.2 630.2,355.4 631.1,364.5 632.0,365.7 633.0,354.2 633.9,363.5 634.8,353.2 635.8,362.3 636.7,356.5 637.6,360.6 638.6,355.1 639.5,361.2 640.5,354.1 641.4,353.7 642.4,359.7 643.3,359.3 644.3,354.3 645.3,362.5 646.3,354.0 647.3,361.8 648.3,363.4 649.3,354.6 650.3,363.6 651.3,354.5 652.3,363.7 653.3,354.4 654.2,362.2 655.2,356.8 656.1,362.4 657.0,354.3 658.0,364.2 658.9,354.9 659.8,353.6 660.8,362.9 661.7,355.6 662.6,355.2 663.5,360.7 664.5,355.3 665.4,362.8 666.3,355.2 667.2,361.6 668.2,361.3 669.1,354.7 670.0,363.1 671.0,354.3 672.0,363.3 673.0,356.2 674.0,363.7 675.0,357.7 676.0,360.9 677.0,357.0 678.0,362.6 679.0,360.2 680.0,362.0 681.0,363.5 682.0,357.9 683.0,362.6 684.0,356.8 685.0,364.2 686.0,358.1 687.0,362.2 688.0,361.6 689.0,358.5 690.0,360.6 691.0,357.8 692.0,361.8 693.0,362.3 694.0,357.2 695.0,356.7 696.0,363.9 697.0,357.3 698.0,362.1 699.0,353.4 700.0,361.7 701.0,355.2 702.0,360.6 703.0,357.5 704.0,360.1 705.0,357.9 706.0,356.6 707.0,358.6 708.0,355.5 709.0,360.7 710.0,360.3 711.0,360.9 712.0,353.6 713.0,359.5 714.0,353.1 715.0,359.9 716.0,350.8 717.0,358.7 718.0,359.4 719.0,356.9 720.0,352.5 721.0,353.0 722.0,359.8 723.0,354.6 724.0,357.9 725.0,353.7 726.0,357.7 727.0,354.4 728.0,359.7 729.0,352.2 730.0,358.9 731.0,352.0 732.0,361.1 733.0,350.3 734.0,360.4 735.0,351.9 736.0,359.7 737.0,352.7 738.0,357.2 739.0,355.1 740.0,358.4 741.0,353.9 742.0,359.3 743.0,354.1 744.0,360.5 745.0,352.8 746.0,359.4 747.0,358.7 748.0,350.5 749.0,359.0 750.0,352.0 751.0,358.9 752.0,353.7 753.0,360.4 754.0,352.0 755.0,361.8 756.0,351.9 757.0,352.4 758.0,361.6 759.0,353.7 760.0,353.7 760.9,359.3 761.8,355.1 762.8,359.3 763.7,355.2 764.6,356.7 765.5,351.8 766.5,354.5 767.4,351.3 768.3,353.9 769.3,356.0 770.2,355.2 771.2,350.8 772.2,353.4 773.2,352.1 774.1,353.3 775.1,351.7 776.1,353.0 777.1,350.1 778.0,355.4 779.0,347.9 780.0,349.2 781.0,354.4 782.0,348.4 783.0,355.3 784.0,349.6 785.0,355.7 786.0,355.6 787.0,357.2 788.0,356.2 789.0,349.8 790.0,354.8 791.0,352.8 792.0,355.4 793.0,348.6 794.0,356.5 795.0,347.7 796.0,355.9 797.0,349.7 798.0,352.8 799.0,353.1 800.0,347.7 801.0,352.8 802.0,349.3 803.0,348.3 804.0,351.5 805.0,347.7 806.0,350.6 807.0,345.5 808.0,346.1 809.0,347.6 810.0,345.6 811.0,349.5 812.0,350.4 813.0,345.1 814.0,345.5 815.0,346.6 816.0,352.8 817.0,346.6 818.0,345.7 819.0,353.1 820.0,346.7 820.9,352.4 821.8,346.1 822.8,354.0 823.7,346.6 824.6,353.4 825.5,344.6 826.5,354.7 827.4,345.7 828.3,351.7 829.3,352.9 830.2,344.4 831.2,354.7 832.2,344.8 833.2,353.7 834.1,346.9 835.1,352.9 836.1,347.6 837.1,346.5 838.0,353.0 839.0,346.5 840.0,353.0 841.0,345.4 842.0,354.7 843.0,345.6 844.0,352.5 845.0,347.4 846.0,347.0 847.0,351.9 848.0,342.4 849.0,351.9 850.0,341.7 851.0,353.2 851.9,345.2 852.9,349.0 853.8,343.8 854.8,349.7 855.7,343.3 856.6,352.8 857.6,343.0 858.5,353.2 859.5,342.6 860.4,349.0 861.4,343.9 862.3,350.3 863.3,343.0 864.2,351.7 865.2,343.1 866.1,349.2 867.0,343.0 868.0,350.2 868.9,344.8 869.8,349.6 870.8,343.7 871.7,342.5 872.6,354.0 873.6,343.5 874.5,353.8 875.5,346.5 876.4,351.8 877.3,350.7 878.3,347.2 879.2,351.0 880.2,347.4" fill="none" stroke="#c86400" stroke-width="3.20" stroke-linejoin="round" stroke-linecap="round"/></g>
<g clip-path="url(#cbl)"><polyline points="166.8,676.1 167.3,676.2 167.8,676.4 168.3,676.6 168.8,676.5 169.3,676.3 169.8,676.3 170.3,676.5 170.8,676.3 171.3,676.4 171.8,676.1 172.3,676.0 172.8,676.1 173.3,676.2 173.8,676.1 174.3,675.9 174.8,675.4 175.3,675.3 175.8,675.2 176.3,675.1 176.8,675.5 177.3,675.3 177.8,675.5 178.3,675.4 178.8,675.1 179.3,675.1 179.8,675.3 180.3,675.0 180.8,674.7 181.3,674.7 181.8,674.9 182.3,674.7 182.8,674.8 183.3,674.9 183.8,674.9 184.3,674.9 184.8,675.1 185.3,675.0 185.8,674.9 186.3,674.6 186.8,674.4 187.3,674.4 187.8,674.5 188.3,674.3 188.8,674.0 189.3,674.3 189.8,674.8 190.3,674.1 190.8,673.8 191.3,673.9 191.8,674.0 192.3,673.8 192.8,673.9 193.3,674.1 193.8,673.9 194.3,673.9 194.8,673.7 195.3,673.4 195.8,673.1 196.3,672.9 196.8,673.1 197.3,673.2 197.8,673.0 198.3,672.5 198.8,672.2 199.3,672.0 199.8,671.5 200.3,671.5 200.8,671.5 201.3,671.2 201.8,670.7 202.3,670.2 202.8,670.2 203.3,669.9 203.8,669.5 204.2,668.9 204.7,668.1 205.2,667.8 205.7,667.2 206.2,666.3 206.7,666.0 207.2,665.8 207.6,665.8 208.1,665.8 208.6,665.6 209.1,665.6 209.5,665.7 210.0,665.5 210.5,665.2 210.9,665.1 211.4,665.1 211.9,664.8 212.4,664.7 212.8,664.4 213.3,664.3 213.8,664.2 214.3,663.8 214.7,663.5 215.2,663.0 215.7,662.7 216.2,662.6 216.7,662.6 217.1,662.2 217.6,662.0 218.1,661.6 218.6,661.5 219.0,661.4 219.5,661.3 220.0,661.0 220.5,660.5 221.0,660.3 221.5,659.9 222.0,659.6 222.5,659.6 223.0,659.7 223.5,659.4 224.0,659.0 224.5,658.9 225.0,658.3 225.5,658.7 226.0,658.2 226.5,658.3 227.0,658.3 227.5,658.2 228.0,657.9 228.5,657.6 229.0,657.0 229.4,656.8 229.9,656.1 230.4,655.5 230.9,655.2 231.3,654.6 231.8,654.4 232.3,653.7 232.8,653.4 233.3,652.7 233.7,652.4 234.2,652.4 234.7,651.7 235.2,651.2 235.7,650.7 236.2,650.6 236.7,650.9 237.2,650.6 237.7,650.6 238.2,650.3 238.7,650.0 239.2,650.2 239.7,650.1 240.2,649.4 240.7,649.0 241.2,648.9 241.7,648.9 242.2,648.6 242.7,648.5 243.2,648.4 243.7,648.1 244.2,648.2 244.7,647.8 245.2,647.7 245.7,647.7 246.2,647.5 246.7,647.2 247.2,647.0 247.7,646.3 248.2,646.3 248.7,645.9 249.2,645.4 249.7,645.6 250.2,645.3 250.7,645.3 251.2,645.3 251.6,644.8 252.1,644.6 252.6,644.6 253.1,644.6 253.5,644.6 254.0,644.2 254.5,644.1 254.9,644.1 255.4,643.7 255.9,643.6 256.4,643.5 256.8,643.0 257.3,643.4 257.8,643.6 258.3,643.5 258.8,643.7 259.3,643.4 259.8,643.7 260.3,643.6 260.8,643.5 261.3,643.4 261.8,643.3 262.3,643.4 262.8,643.3 263.3,643.1 263.8,643.3 264.3,643.3 264.8,643.3 265.3,643.4 265.8,643.0 266.3,643.1 266.7,642.8 267.2,642.8 267.7,642.4 268.2,642.1 268.6,641.9 269.1,641.9 269.6,642.0 270.1,641.5 270.6,641.1 271.0,641.1 271.5,641.1 272.0,640.9 272.5,640.4 273.0,640.3 273.5,639.9 274.0,639.5 274.5,639.2 275.0,638.7 275.5,637.9 276.0,637.7 276.5,637.6 277.0,637.4 277.5,637.1 278.0,636.8 278.5,636.7 279.0,636.3 279.5,636.3 280.0,635.8 280.5,635.7 281.0,635.3 281.5,635.1 282.0,634.9 282.5,634.6 283.0,634.7 283.5,634.4 284.0,634.3 284.5,634.0 285.0,633.9 285.5,633.4 286.0,633.0 286.5,633.0 287.0,632.5 287.5,632.4 288.0,632.3 288.5,632.1 289.0,631.9 289.5,631.7 290.0,631.4 290.5,631.6 291.0,631.6 291.5,631.7 292.0,631.5 292.5,631.7 293.0,631.6 293.5,631.9 294.0,632.2 294.5,632.3 295.0,632.5 295.5,632.6 296.0,632.4 296.4,632.2 296.9,632.1 297.4,632.1 297.9,632.2 298.4,632.5 298.8,631.9 299.3,631.8 299.8,631.8 300.3,631.5 300.7,631.5 301.2,631.8 301.7,631.6 302.2,631.9 302.7,632.0 303.2,631.8 303.7,631.2 304.2,631.6 304.7,631.9 305.2,631.5 305.7,631.5 306.2,631.4 306.7,631.5 307.2,631.6 307.7,631.9 308.2,631.8 308.7,632.3 309.2,631.8 309.7,631.9 310.2,632.6 310.7,632.4 311.2,632.5 311.7,632.4 312.2,632.9 312.7,632.8 313.2,632.4 313.7,631.7 314.2,631.6 314.7,631.6 315.2,631.0 315.7,630.8 316.2,630.9 316.7,630.3 317.2,630.2 317.7,629.9 318.2,629.6 318.7,629.8 319.2,630.0 319.7,630.2 320.2,629.9 320.7,629.9 321.2,629.4 321.7,629.0 322.2,629.0 322.7,628.8 323.2,628.4 323.7,627.9 324.2,627.8 324.7,628.2 325.2,627.5 325.7,627.2 326.2,627.3 326.7,626.8 327.2,626.5 327.7,626.4 328.2,626.6 328.7,626.3 329.2,626.5 329.7,626.8 330.1,627.1 330.6,627.5 331.1,627.9 331.6,627.9 332.0,628.0 332.5,628.4 333.0,628.2 333.5,627.7 334.0,627.3 334.5,626.9 335.0,626.7 335.5,626.4 336.0,626.2 336.5,626.0 337.0,625.5 337.5,625.1 338.0,624.6 338.5,624.4 339.0,624.3 339.5,623.8 340.0,623.1 340.5,623.2 341.0,623.0 341.5,622.9 342.0,622.9 342.5,622.9 343.0,622.9 343.5,622.6 344.0,621.9 344.5,621.8 345.0,621.6 345.5,621.5 346.0,621.5 346.5,621.3 347.0,621.5 347.5,621.2 348.0,621.0 348.5,620.8 349.0,621.1 349.5,620.7 350.0,620.3 350.5,620.0 351.0,620.1 351.5,619.9 352.0,619.7 352.5,619.2 353.0,618.7 353.5,618.6 354.0,618.6 354.5,618.9 355.0,618.8 355.5,618.7 356.0,618.7 356.5,618.3 357.0,617.9 357.5,617.7 358.0,617.9 358.5,617.9 359.0,617.5 359.5,617.1 360.0,617.2 360.5,617.1 361.0,616.6 361.5,616.7 362.0,616.2 362.4,616.1 362.9,615.8 363.4,615.4 363.9,615.0 364.4,614.9 364.9,614.8 365.4,614.7 365.9,614.3 366.3,613.9 366.8,614.1 367.3,614.1 367.8,613.7 368.3,613.1 368.8,613.2 369.3,613.0 369.8,612.8 370.3,612.7 370.8,612.6 371.3,612.4 371.8,612.6 372.3,611.9 372.7,611.8 373.2,611.4 373.7,611.3 374.2,611.1 374.7,611.0 375.2,610.3 375.7,610.5 376.2,610.9 376.7,610.6 377.2,610.7 377.7,610.8 378.2,610.8 378.7,610.6 379.2,610.7 379.7,610.7 380.2,610.9 380.7,611.0 381.2,610.7 381.7,610.0 382.2,610.4 382.7,610.5 383.2,610.5 383.7,610.4 384.2,610.9 384.7,611.1 385.2,611.0 385.7,610.8 386.2,610.8 386.7,611.0 387.2,610.9 387.7,610.9 388.2,610.8 388.7,610.6 389.2,610.2 389.7,610.1 390.2,610.0 390.7,609.9 391.2,609.8 391.7,609.8 392.2,609.6 392.7,609.5 393.2,609.1 393.7,609.6 394.2,609.3 394.7,609.0 395.2,608.9 395.7,608.8 396.2,608.6 396.7,608.1 397.2,608.5 397.7,608.7 398.1,608.6 398.6,608.6 399.1,608.3 399.6,607.9 400.1,608.0 400.5,608.1 401.0,607.9 401.5,607.9 402.0,607.1 402.4,607.2 402.9,607.5 403.4,607.5 403.9,607.5 404.4,607.5 404.8,607.0 405.3,606.7 405.8,606.5 406.3,606.9 406.8,607.2 407.3,607.2 407.8,607.8 408.3,608.1 408.8,608.7 409.2,609.4 409.7,609.3 410.2,609.3 410.7,609.8 411.2,610.4 411.7,610.7 412.2,610.7 412.7,610.7 413.2,610.8 413.7,610.4 414.1,610.5 414.6,610.6 415.1,610.4 415.6,610.1 416.1,610.0 416.6,609.9 417.1,610.0 417.6,610.2 418.0,610.1 418.5,610.0 419.0,609.6 419.5,609.5 420.0,609.4 420.5,609.4 421.0,609.5 421.5,609.6 422.0,610.4 422.4,610.1 422.9,609.9 423.4,609.6 423.9,609.6 424.4,609.5 424.9,609.8 425.4,609.3 425.9,609.6 426.3,609.7 426.8,609.6 427.3,609.4 427.8,609.5 428.3,609.6 428.8,609.7 429.3,609.8 429.8,609.9 430.3,609.8 430.8,610.1 431.3,610.4 431.8,610.5 432.3,610.4 432.7,610.5 433.2,610.7 433.7,610.9 434.2,610.9 434.7,611.3 435.2,611.6 435.7,611.9 436.2,611.9 436.7,612.3 437.2,612.1 437.7,611.9 438.2,611.5 438.7,611.5 439.2,611.8 439.7,611.5 440.2,611.7 440.7,611.3 441.2,611.4 441.7,611.8 442.2,611.7 442.7,611.4 443.2,611.4 443.7,611.3 444.2,611.5 444.7,611.3 445.2,610.9 445.7,610.9 446.2,611.1 446.7,611.3 447.2,611.5 447.7,611.6 448.2,611.9 448.7,611.9 449.2,611.9 449.7,612.1 450.2,612.5 450.7,612.5 451.2,612.7 451.7,612.7 452.2,612.6 452.7,612.9 453.2,612.7 453.7,612.8 454.2,612.8 454.7,612.9 455.2,613.0 455.7,613.8 456.2,614.1 456.7,614.2 457.2,613.8 457.7,613.3 458.2,613.5 458.7,613.3 459.1,613.6 459.6,613.5 460.1,613.2 460.6,613.1 461.1,612.8 461.6,612.5 462.1,612.8 462.6,612.7 463.0,612.9 463.5,612.8 464.0,612.7 464.5,612.6 465.0,612.5 465.5,612.6 466.0,613.1 466.5,613.2 467.0,613.0 467.5,613.5 468.0,613.9 468.5,614.2 469.0,614.2 469.5,614.3 470.0,614.2 470.5,614.4 471.0,614.6 471.5,614.7 472.0,614.6 472.5,614.5 473.0,615.1 473.5,615.5 474.0,615.3 474.5,615.2 475.0,615.3 475.5,615.6 476.0,615.6 476.5,615.7 476.9,615.9 477.4,616.2 477.9,615.9 478.4,616.2 478.9,616.3 479.4,616.5 479.9,616.2 480.4,616.2 480.9,616.3 481.3,616.5 481.8,616.7 482.3,616.9 482.8,616.7 483.3,617.0 483.8,617.1 484.3,617.3 484.8,617.3 485.2,617.2 485.7,617.8 486.2,617.9 486.7,618.0 487.2,617.9 487.7,617.8 488.1,618.1 488.6,618.1 489.1,618.5 489.6,618.6 490.1,618.3 490.6,617.9 491.1,618.3 491.5,618.4 492.0,618.4 492.5,618.3 493.0,618.3 493.5,618.7 493.9,618.7 494.4,618.4 494.9,618.7 495.4,618.7 495.9,618.9 496.4,618.8 496.9,618.9 497.3,618.5 497.8,618.8 498.3,618.8 498.8,618.9 499.3,619.2 499.8,619.6 500.3,619.2 500.8,619.4 501.3,619.7 501.8,620.1 502.3,620.0 502.7,620.2 503.2,620.4 503.7,620.7 504.2,620.6 504.7,620.7 505.2,620.7 505.7,621.1 506.2,621.4 506.7,621.4 507.2,621.5 507.7,621.6 508.1,621.6 508.6,621.7 509.1,622.1 509.6,622.4 510.1,622.3 510.5,622.3 511.0,622.5 511.5,622.3 512.0,622.6 512.4,622.9 512.9,622.8 513.4,623.0 513.9,623.0 514.4,623.2 514.8,623.3 515.3,623.8 515.8,623.8 516.2,624.1 516.6,624.3 517.0,624.7" fill="none" stroke="#32c832" stroke-width="3.35" stroke-linejoin="round" stroke-linecap="round"/><polyline points="166.8,675.9 167.3,676.0 167.7,676.0 168.2,676.1 168.7,675.8 169.2,675.7 169.6,675.2 170.1,675.3 170.6,674.9 171.1,675.1 171.5,675.4 172.0,675.5 172.5,675.4 173.0,675.3 173.5,675.2 173.9,675.2 174.4,675.2 174.9,675.3 175.4,674.9 175.9,674.8 176.4,674.7 176.8,674.4 177.3,674.2 177.8,673.6 178.3,673.7 178.8,673.5 179.3,673.4 179.8,673.4 180.3,673.6 180.8,673.5 181.3,673.8 181.8,674.0 182.3,674.2 182.7,674.2 183.2,674.4 183.7,674.8 184.2,674.7 184.7,674.5 185.2,674.5 185.7,674.5 186.2,674.6 186.7,674.7 187.2,673.9 187.6,674.0 188.1,673.6 188.6,673.2 189.1,672.5 189.5,671.9 190.0,671.5 190.5,671.4 190.9,671.4 191.4,670.7 191.9,670.6 192.4,670.7 192.8,670.3 193.3,670.1 193.8,669.4 194.3,668.5 194.7,668.0 195.2,667.1 195.7,666.5 196.2,665.7 196.7,664.9 197.1,664.3 197.6,663.8 198.1,662.7 198.6,661.8 199.0,661.2 199.5,660.7 200.0,660.0 200.5,659.0 201.0,658.2 201.4,657.5 201.9,656.3 202.4,655.0 202.9,654.0 203.3,653.3 203.8,652.1 204.3,651.5 204.8,650.7 205.3,649.9 205.7,648.7 206.2,647.4 206.7,646.7 207.2,645.6 207.7,644.5 208.2,643.0 208.7,641.3 209.2,640.5 209.7,639.6 210.2,638.4 210.7,637.3 211.2,636.2 211.7,635.2 212.2,633.9 212.7,632.6 213.2,631.3 213.7,630.4 214.2,629.2 214.7,627.3 215.2,626.3 215.7,625.2 216.2,623.8 216.7,622.7 217.2,621.7 217.7,621.0 218.2,620.2 218.7,619.6 219.2,618.6 219.7,617.5 220.2,616.7 220.7,615.8 221.2,615.3 221.7,614.5 222.2,613.9 222.7,613.6 223.2,613.4 223.7,613.2 224.2,612.6 224.7,612.4 225.2,612.2 225.7,612.2 226.2,612.1 226.7,611.7 227.2,611.1 227.7,610.7 228.2,610.6 228.7,610.1 229.2,610.1 229.7,609.5 230.2,609.0 230.7,608.9 231.2,608.5 231.7,608.3 232.2,607.7 232.7,607.3 233.2,606.7 233.7,606.6 234.1,606.2 234.6,605.6 235.1,605.2 235.6,604.8 236.1,604.1 236.6,603.6 237.1,603.1 237.6,602.5 238.0,601.8 238.5,601.3 239.0,600.8 239.5,600.3 240.0,599.4 240.5,598.6 241.0,597.9 241.4,597.0 241.9,596.5 242.4,595.6 242.9,594.5 243.3,593.4 243.8,592.5 244.3,591.5 244.8,590.2 245.3,589.3 245.7,588.4 246.2,587.4 246.7,586.6 247.2,585.9 247.6,585.5 248.1,584.5 248.6,583.6 249.1,582.9 249.5,581.9 250.0,581.0 250.5,580.6 250.9,579.4 251.4,578.7 251.9,577.5 252.4,576.9 252.8,575.7 253.3,574.8 253.8,574.4 254.3,574.1 254.7,573.4 255.2,572.0 255.7,571.6 256.2,570.9 256.6,569.9 257.1,569.2 257.6,568.2 258.1,567.6 258.6,566.9 259.0,566.3 259.5,565.7 260.0,564.8 260.5,563.5 261.0,562.4 261.4,561.3 261.9,560.5 262.4,559.6 262.9,558.8 263.4,558.2 263.8,557.3 264.3,556.2 264.8,555.2 265.3,554.1 265.7,553.2 266.2,552.5 266.7,551.3 267.2,550.7 267.6,550.3 268.1,549.7 268.6,549.1 269.1,548.1 269.5,546.9 270.0,546.4 270.5,545.4 270.9,544.6 271.4,543.6 271.9,542.5 272.4,541.8 272.8,540.6 273.3,539.5 273.8,539.3 274.3,538.9 274.8,538.4 275.3,538.1 275.8,538.0 276.3,537.5 276.8,537.1 277.3,536.8 277.8,536.5 278.3,536.3 278.8,535.5 279.3,534.5 279.7,533.8 280.2,533.0 280.7,531.8 281.2,531.3 281.6,530.6 282.1,530.1 282.6,529.2 283.1,528.5 283.6,527.6 284.0,526.8 284.5,526.2 285.0,525.3 285.5,524.6 286.0,523.6 286.5,523.0 287.0,522.2 287.5,520.9 288.0,520.4 288.5,519.5 289.0,518.5 289.5,517.5 290.0,517.1 290.5,516.5 291.0,516.1 291.5,515.7 292.0,515.1 292.4,515.0 292.9,514.9 293.4,514.1 293.9,513.8 294.4,512.8 294.9,512.3 295.4,511.9 295.9,511.4 296.3,511.1 296.8,510.7 297.3,510.3 297.8,509.8 298.3,509.4 298.8,508.5 299.3,508.2 299.8,507.3 300.3,506.8 300.8,506.0 301.3,505.1 301.8,504.3 302.3,503.2 302.7,502.9 303.2,502.2 303.7,501.4 304.2,500.5 304.7,500.0 305.2,499.1 305.7,498.3 306.2,497.4 306.7,497.0 307.2,496.1 307.6,495.1 308.1,494.0 308.6,493.4 309.1,492.5 309.5,491.5 310.0,490.8 310.5,490.0 310.9,488.8 311.4,488.1 311.9,487.4 312.4,486.3 312.8,485.1 313.3,484.4 313.8,483.6 314.3,482.9 314.7,482.2 315.2,481.5 315.7,481.0 316.2,480.1 316.6,479.6 317.1,479.2 317.6,478.7 318.1,478.1 318.6,477.4 319.0,476.6 319.5,475.9 320.0,475.0 320.5,474.7 321.0,474.0 321.4,473.2 321.9,472.8 322.4,472.5 322.9,471.8 323.4,471.1 323.8,470.2 324.3,469.8 324.8,469.1 325.3,468.4 325.7,467.9 326.2,467.1 326.7,466.7 327.2,465.6 327.7,465.0 328.2,464.2 328.7,463.7 329.1,463.4 329.6,462.6 330.1,462.5 330.6,461.8 331.1,461.1 331.6,460.8 332.1,460.1 332.6,459.8 333.0,459.2 333.5,458.5 334.0,457.7 334.5,457.4 335.0,456.8 335.5,455.7 336.0,454.5 336.5,453.4 337.0,452.4 337.5,451.3 338.0,450.6 338.5,449.6 339.0,448.5 339.5,447.6 340.0,447.0 340.5,446.0 341.0,445.7 341.4,445.6 341.9,445.2 342.4,444.9 342.9,444.1 343.4,443.5 343.8,443.4 344.3,442.9 344.8,442.5 345.3,442.2 345.7,441.8 346.2,441.5 346.7,440.9 347.2,440.6 347.6,440.7 348.1,440.4 348.6,439.9 349.1,439.7 349.5,439.7 350.0,439.9 350.5,439.7 350.9,439.3 351.4,439.2 351.9,439.1 352.4,439.1 352.8,438.9 353.3,438.8 353.8,438.6 354.3,438.4 354.7,438.0 355.2,437.7 355.7,437.8 356.2,437.8 356.6,437.7 357.1,437.5 357.6,437.2 358.1,436.9 358.6,436.6 359.0,436.6 359.5,436.3 360.0,435.9 360.5,435.4 361.0,435.7 361.4,435.4 361.9,435.1 362.4,435.1 362.9,435.4 363.4,435.4 363.8,435.1 364.3,435.1 364.8,434.7 365.3,434.5 365.7,434.4 366.2,434.3 366.7,434.4 367.2,434.4 367.6,434.7 368.1,434.7 368.6,434.4 369.1,434.3 369.5,434.0 370.0,433.7 370.5,433.6 370.9,433.8 371.4,433.5 371.9,433.1 372.4,432.9 372.8,432.7 373.3,432.8 373.8,433.0 374.3,432.9 374.7,433.0 375.2,433.2 375.7,433.5 376.2,433.9 376.6,434.3 377.1,434.3 377.6,434.6 378.1,434.7 378.6,434.5 379.0,434.6 379.5,435.2 380.0,435.2 380.5,435.4 381.0,435.3 381.4,435.4 381.9,435.1 382.4,435.1 382.9,434.7 383.4,434.3 383.8,433.9 384.3,433.9 384.8,433.4 385.3,433.5 385.7,433.2 386.2,433.3 386.7,432.9 387.2,433.1 387.6,432.9 388.1,432.5 388.6,432.2 389.1,432.3 389.5,431.9 390.0,432.0 390.5,432.1 390.9,431.9 391.4,432.2 391.9,432.4 392.4,432.3 392.8,432.2 393.3,432.1 393.8,431.8 394.3,431.9 394.7,431.5 395.2,430.7 395.7,430.7 396.2,430.7 396.6,430.7 397.1,430.3 397.6,430.5 398.1,430.1 398.6,430.1 399.0,430.1 399.5,429.9 400.0,429.9" fill="none" stroke="#c86400" stroke-width="3.35" stroke-linejoin="round" stroke-linecap="round"/><polyline points="166.8,676.5 167.3,676.6 167.8,676.8 168.3,677.1 168.8,677.6 169.3,677.8 169.8,678.1 170.3,678.6 170.8,678.8 171.3,679.4 171.8,679.5 172.3,679.6 172.8,679.4 173.3,679.9 173.8,679.7 174.3,679.3 174.7,679.0 175.2,678.6 175.7,678.5 176.2,678.0 176.7,677.7 177.1,677.3 177.6,676.7 178.1,675.9 178.6,675.8 179.0,675.2 179.5,675.1 180.0,674.9 180.5,674.9 181.0,674.3 181.4,673.9 181.9,673.6 182.4,673.0 182.9,672.5 183.3,672.2 183.8,672.2 184.3,671.9 184.8,671.5 185.3,670.8 185.7,670.4 186.2,670.2 186.7,669.4 187.2,668.8 187.6,668.2 188.1,667.8 188.6,666.8 189.1,666.5 189.5,666.0 190.0,665.4 190.5,664.4 190.9,663.6 191.4,663.1 191.9,662.9 192.4,662.5 192.8,662.2 193.3,661.3 193.8,660.7 194.3,660.4 194.7,659.3 195.2,658.8 195.7,657.9 196.2,657.4 196.7,656.7 197.1,655.6 197.6,654.8 198.1,654.4 198.6,653.7 199.0,653.3 199.5,652.6 200.0,652.0 200.5,650.9 201.0,649.9 201.5,648.8 202.0,647.9 202.5,646.8 203.0,646.0 203.5,645.3 204.0,643.9 204.5,642.8 205.0,641.9 205.5,640.2 206.0,638.4 206.5,636.2 207.0,633.8 207.5,631.9 208.0,629.8 208.5,627.8 209.0,625.9 209.5,623.5 210.0,621.8 210.5,620.0 211.0,618.0 211.5,616.1 212.0,614.1 212.5,611.7 213.0,609.6 213.5,607.8 214.0,605.7 214.5,603.7 215.0,601.8 215.5,600.1 216.0,598.5 216.5,596.9 217.0,595.2 217.5,593.2 218.0,591.5 218.5,590.1 219.0,588.3 219.5,586.7 220.0,585.1 220.5,583.4 220.9,581.4 221.4,580.0 221.9,578.5 222.4,577.0 222.8,575.8 223.3,574.2 223.8,572.6 224.3,570.9 224.8,569.2 225.3,567.8 225.8,565.5 226.3,564.0 226.8,562.1 227.3,560.3 227.8,558.4 228.3,556.6 228.8,555.2 229.3,553.6 229.7,552.6 230.2,550.9 230.7,549.5 231.2,547.8 231.7,546.5 232.1,545.2 232.6,544.0 233.1,542.8 233.6,541.1 234.0,540.0 234.5,538.5 235.0,537.3 235.5,536.4 236.0,534.9 236.5,533.4 237.0,532.3 237.5,531.4 238.0,530.2 238.5,529.1 239.0,528.0 239.5,526.8 240.0,525.8 240.5,524.7 241.0,523.5 241.4,522.6 241.9,521.6 242.4,520.5 242.9,519.7 243.3,519.1 243.8,517.9 244.3,516.8 244.8,516.3 245.3,515.4 245.7,514.5 246.2,514.1 246.7,513.5 247.2,512.2 247.7,510.9 248.2,509.0 248.7,507.8 249.2,506.6 249.7,505.0 250.2,503.8 250.7,502.6 251.2,501.3 251.7,500.1 252.2,499.2 252.7,498.1 253.2,496.9 253.7,495.5 254.2,494.7 254.7,493.5 255.2,492.5 255.7,491.7 256.2,490.7 256.7,489.3 257.2,489.5 257.7,489.6 258.2,489.5 258.7,489.7 259.2,490.2 259.7,490.6 260.2,490.8 260.7,491.1 261.2,491.2 261.7,491.3 262.2,490.8 262.6,490.4 263.1,489.8 263.6,489.2 264.1,488.7 264.5,488.4 265.0,487.5 265.5,487.0 265.9,486.4 266.4,485.8 266.9,485.2 267.4,484.2 267.8,483.6 268.3,483.0 268.8,481.4 269.3,480.3 269.8,478.9 270.2,477.4 270.7,476.2 271.2,474.5 271.7,473.0 272.2,472.7 272.6,472.3 273.1,472.1 273.6,471.3 274.1,470.3 274.5,469.4 275.0,468.7 275.5,468.1 276.0,467.4 276.4,466.6 276.9,465.8 277.4,465.1 277.9,464.4 278.4,464.0 278.8,463.5 279.3,463.1 279.8,462.5 280.3,461.8 280.7,461.3 281.2,460.5 281.7,460.0 282.2,459.8 282.7,459.7 283.2,459.3 283.7,458.6 284.1,458.8 284.6,458.2 285.1,457.9 285.6,457.4 286.1,456.9 286.6,456.7 287.1,456.2 287.6,455.9 288.0,455.9 288.5,455.6 289.0,455.5 289.5,455.3 290.0,455.0 290.5,454.8 291.0,454.7 291.5,454.3 292.0,454.2 292.5,453.8 293.0,453.5 293.5,453.3 294.0,452.9 294.5,452.5 295.0,452.6 295.5,452.7 296.0,452.7 296.5,453.1 297.0,452.9 297.5,452.9 298.0,452.5 298.5,452.4 299.0,452.0 299.5,452.3 300.0,451.8 300.5,451.6 301.0,451.6 301.5,451.0 302.0,451.2 302.5,450.8 303.0,450.8 303.5,450.9 304.0,450.8 304.5,450.8 305.0,450.5 305.5,450.5 306.0,449.8 306.5,450.1 307.0,449.8 307.5,449.5 308.0,449.4 308.5,449.6 309.0,449.3 309.5,449.2 310.0,448.9 310.5,448.8 311.0,448.6 311.5,448.9 312.0,449.2 312.5,449.1 313.0,449.2 313.5,449.4 314.0,449.5 314.5,449.5 315.0,449.5 315.5,449.6 316.0,449.5 316.5,449.5 317.0,449.8 317.5,449.7 318.0,450.0 318.5,450.0 319.0,449.8 319.5,449.8 320.0,449.6 320.5,449.6 321.0,449.1 321.4,448.9 321.9,448.7 322.4,448.5 322.9,448.4 323.4,448.3 323.8,447.9 324.3,447.9 324.8,447.6 325.3,447.6 325.7,447.6 326.2,447.3 326.7,447.2 327.2,446.6 327.7,446.4 328.2,445.8 328.7,445.5 329.1,445.5 329.6,444.7 330.1,444.4 330.6,444.1 331.1,443.8 331.6,443.7 332.1,443.7 332.6,443.3 333.0,443.0 333.5,442.5 334.0,442.2 334.5,441.7 335.0,441.4 335.5,441.6 336.0,441.7 336.4,441.5 336.9,441.5 337.4,441.2 337.9,441.4 338.4,441.6 338.8,440.8 339.3,440.5 339.8,440.3 340.3,440.1 340.7,440.3 341.2,440.5 341.7,440.2 342.2,440.1 342.6,439.5 343.1,439.3 343.6,439.1 344.1,438.9 344.5,438.9 345.0,438.4 345.5,438.1 345.9,438.4 346.4,437.9 346.9,437.8 347.4,437.8 347.8,437.7 348.3,437.6 348.8,437.5 349.3,437.7 349.8,437.7 350.3,438.5 350.8,438.8 351.3,439.2 351.8,439.5 352.3,439.6 352.8,440.1 353.3,440.4 353.8,440.2 354.3,440.0 354.7,439.8 355.2,439.4 355.7,439.2 356.2,438.9 356.6,438.5 357.1,438.4 357.6,438.5 358.1,437.7 358.6,437.8 359.0,437.4 359.5,437.3 360.0,436.8 360.5,436.6 361.0,436.7 361.5,436.6 362.0,436.5 362.4,436.1 362.9,435.8 363.4,436.1 363.9,436.0 364.4,435.9 364.9,435.5 365.4,435.2 365.9,435.0 366.3,435.0 366.8,434.9 367.3,434.8 367.8,434.6 368.3,434.7 368.8,435.1 369.3,434.9 369.8,434.8 370.3,435.2 370.8,435.0 371.3,435.2 371.8,435.4 372.3,435.9 372.7,435.6 373.2,435.1 373.7,435.4 374.2,435.9 374.7,436.1 375.2,436.1 375.7,436.3 376.2,436.0 376.7,436.4 377.2,436.7 377.6,436.6 378.1,436.7 378.6,436.4 379.1,436.6 379.5,436.4 380.0,436.1 380.5,435.9 380.9,435.5 381.4,435.8 381.9,436.2 382.4,435.8 382.8,435.7 383.3,435.8 383.8,435.6 384.3,435.2 384.7,435.3 385.2,435.6 385.7,435.5 386.2,435.2 386.6,435.2 387.1,434.7 387.6,434.8 388.1,435.1 388.6,435.3 389.0,435.2 389.5,435.2 390.0,435.0 390.5,435.3 391.0,435.4 391.4,435.7 391.9,435.8 392.4,436.1 392.9,436.5 393.4,436.7 393.8,436.7 394.3,437.0 394.8,437.2 395.3,437.4 395.7,437.8 396.2,437.9 396.7,438.4 397.2,438.0 397.6,437.3 398.1,436.7 398.6,436.3 399.1,435.6 399.5,435.4 400.0,434.5 400.5,435.1 401.0,435.5 401.4,435.7 401.9,436.4 402.4,436.8 402.9,437.3 403.4,437.7 403.8,438.1 404.3,438.7 404.8,439.3 405.3,439.9 405.7,440.2 406.2,440.9 406.7,441.1 407.2,440.9 407.6,440.6 408.1,440.5 408.6,440.6 409.1,440.5 409.5,440.9 410.0,441.2 410.5,441.4 410.9,441.6 411.4,441.8 411.9,441.9 412.4,442.0 412.8,442.2 413.3,442.1 413.8,442.3 414.3,442.3 414.7,442.0 415.2,442.2 415.7,441.6 416.2,441.5 416.6,440.8 417.1,440.7 417.6,440.3 418.1,440.3 418.6,440.1 419.0,440.0 419.5,439.8 420.0,439.6 420.5,439.2 421.0,439.1 421.4,438.8 421.9,438.5 422.4,438.4 422.9,437.9 423.4,437.9 423.8,437.6 424.3,437.1 424.8,436.4 425.3,436.3 425.7,435.9 426.2,435.5 426.7,435.2 427.2,435.2 427.6,435.0 428.1,434.3 428.6,434.0 429.1,433.9 429.5,433.7 430.0,433.7 430.5,433.5 430.9,433.6 431.4,433.1 431.9,433.1 432.4,432.9 432.8,432.6 433.3,432.5 433.8,432.0 434.2,431.9 434.7,431.5 435.2,431.3 435.6,430.9 436.1,430.8 436.6,430.2 437.1,429.8 437.5,429.6 438.0,429.4 438.5,429.5 439.0,429.7 439.5,430.1 440.0,430.6 440.5,431.1 441.0,431.2 441.5,431.5 442.0,431.7 442.5,431.7 443.0,432.0 443.5,431.8 444.0,431.1 444.5,431.3 445.0,431.0 445.5,431.0 446.0,430.6 446.5,429.8 447.0,429.6 447.5,429.7 448.0,429.2 448.5,429.2 449.0,429.0 449.5,428.8 450.0,428.6" fill="none" stroke="#c8287d" stroke-width="3.35" stroke-linejoin="round" stroke-linecap="round"/></g>
<g clip-path="url(#cbr)"><polyline points="529.9,669.1 530.8,667.5 531.7,669.3 532.6,666.9 533.4,669.4 534.3,665.7 535.1,666.8 536.0,664.2 537.0,666.4 537.9,664.2 538.9,666.9 539.8,664.0 540.8,663.6 541.7,665.8 542.7,663.6 543.6,662.4 544.6,667.3 545.5,662.4 546.5,667.2 547.5,663.8 548.4,667.6 549.4,663.1 550.4,667.3 551.4,665.1 552.3,666.2 553.3,664.1 554.3,666.5 555.2,666.2 556.2,665.0 557.2,665.0 558.1,664.5 559.1,665.8 560.0,666.6 560.9,665.9 561.9,667.5 562.8,666.7 563.6,666.5 564.5,665.0 565.3,665.6 566.1,663.7 566.9,663.5 567.8,664.0 568.6,662.9 569.4,662.7 570.3,662.3 571.2,663.4 572.1,662.6 573.0,663.2 573.9,662.9 574.7,664.3 575.5,664.5 576.3,665.5 577.1,666.6 577.8,668.4 578.6,668.0 579.4,668.9 580.2,668.1 581.1,668.9 581.9,668.5 582.8,667.9 583.7,665.6 584.6,663.2 585.5,662.3 586.4,663.0 587.4,659.8 588.3,660.7 589.2,657.3 590.2,661.0 591.1,657.8 592.0,662.0 593.0,656.6 593.9,660.0 594.9,655.4 595.8,659.5 596.8,652.9 597.7,656.6 598.7,653.2 599.6,656.9 600.6,658.7 601.5,652.2 602.4,656.9 603.2,651.0 604.1,655.2 605.0,649.7 605.9,655.1 606.8,649.1 607.6,654.1 608.5,653.5 609.4,647.6 610.4,650.9 611.3,646.9 612.3,651.3 613.2,647.5 614.2,653.7 615.1,647.5 616.1,652.4 617.0,647.1 617.9,649.8 618.8,651.1 619.7,650.5 620.6,642.9 621.5,648.6 622.4,640.1 623.2,643.9 624.1,639.7 625.0,639.6 626.0,637.6 627.0,638.7 628.0,635.7 629.0,635.9 630.0,639.1 631.0,634.7 631.9,638.6 632.9,634.6 633.8,638.4 634.8,638.3 635.7,634.5 636.7,636.1 637.5,635.0 638.4,636.7 639.2,635.2 640.0,637.9 641.0,632.8 642.0,637.2 643.0,627.9 644.0,633.1 645.0,625.2 645.9,632.3 646.8,624.6 647.8,630.8 648.7,623.3 649.6,627.7 650.5,622.6 651.5,626.9 652.4,622.3 653.3,625.7 654.2,624.7 655.2,618.5 656.1,622.9 657.0,618.3 658.0,622.1 658.9,618.4 659.8,621.4 660.8,615.4 661.7,619.7 662.6,612.6 663.6,616.7 664.5,611.9 665.5,614.0 666.4,609.1 667.4,615.6 668.3,614.6 669.2,604.5 670.2,612.5 671.1,611.8 672.0,603.2 673.0,610.5 673.9,610.2 674.8,603.1 675.8,608.4 676.7,602.0 677.6,608.6 678.5,603.7 679.5,604.6 680.4,603.7 681.3,606.4 682.2,602.2 683.2,604.8 684.1,602.4 685.0,605.8 685.9,605.6 686.8,600.7 687.8,598.9 688.7,600.4 689.6,600.2 690.5,597.7 691.5,598.4 692.4,599.3 693.3,595.7 694.3,594.8 695.3,598.5 696.3,593.0 697.3,596.7 698.3,593.1 699.3,590.3 700.3,597.5 701.3,586.6 702.3,587.3 703.3,596.3 704.3,594.7 705.3,587.2 706.3,592.7 707.3,586.8 708.3,592.4 709.3,583.2 710.3,583.4 711.3,588.2 712.3,581.8 713.3,589.7 714.3,581.2 715.3,588.8 716.3,584.2 717.3,587.6 718.3,582.8 719.3,585.1 720.3,582.1 721.3,584.8 722.3,587.5 723.3,577.0 724.3,585.0 725.3,581.2 726.3,579.9 727.3,579.7 728.3,584.4 729.3,575.7 730.3,583.0 731.3,583.2 732.3,581.8 733.3,576.3 734.3,581.5 735.2,581.3 736.2,579.0 737.1,570.9 738.1,578.5 739.0,570.9 740.0,575.3 741.0,569.6 742.0,574.7 743.0,569.0 744.0,568.2 745.0,571.9 746.0,566.5 747.0,567.5 748.0,568.3 749.0,569.6 750.0,563.1 751.0,567.6 752.0,561.9 753.0,567.4 754.0,558.2 755.0,568.7 756.0,560.4 757.0,564.7 758.0,563.7 759.0,559.2 760.0,564.4 761.0,555.0 762.0,565.1 763.0,553.5 764.0,554.2 765.0,564.2 765.9,557.2 766.8,563.7 767.8,554.3 768.7,564.3 769.6,557.3 770.5,564.9 771.5,559.2 772.4,563.7 773.3,562.2 774.3,565.0 775.3,560.7 776.3,563.3 777.3,559.8 778.3,562.5 779.3,559.2 780.3,557.7 781.3,561.0 782.3,553.7 783.3,561.0 784.3,554.8 785.3,562.9 786.3,556.2 787.3,560.8 788.3,557.7 789.3,556.8 790.3,561.7 791.3,554.7 792.3,560.7 793.3,557.2 794.3,560.7 795.3,556.9 796.3,561.0 797.3,561.7 798.3,552.7 799.3,553.3 800.3,559.1 801.3,553.8 802.3,557.2 803.3,550.6 804.3,559.1 805.3,548.9 806.3,549.8 807.3,558.6 808.3,551.6 809.3,557.5 810.3,550.3 811.3,557.1 812.3,550.1 813.3,550.2 814.3,555.9 815.3,549.2 816.3,555.5 817.3,549.7 818.3,555.4 819.3,550.5 820.3,553.5 821.3,550.6 822.3,553.2 823.3,549.2 824.3,548.7 825.2,551.4 826.2,553.5 827.2,546.5 828.2,552.6 829.1,545.3 830.1,553.1 831.1,543.6 832.1,551.7 833.0,552.7 834.0,541.9 835.0,549.6 835.9,549.3 836.8,543.0 837.8,547.6 838.7,546.0 839.6,547.7 840.5,545.3 841.5,548.7 842.4,542.7 843.3,548.5 844.3,542.7 845.3,543.7 846.3,547.8 847.3,543.7 848.3,550.5 849.1,548.5 850.0,540.1 850.9,545.2 851.7,536.7 852.6,543.7 853.5,544.1 854.5,535.4 855.4,542.0 856.3,533.1 857.2,541.7 858.2,532.8 859.1,540.8 860.0,534.3 860.9,537.5 861.8,533.1 862.8,538.8 863.7,531.7 864.6,537.2 865.5,537.1 866.5,528.8 867.4,537.9 868.3,529.5 869.3,538.2 870.3,529.3 871.3,534.3 872.3,526.6 873.3,533.6 874.2,524.0 875.2,521.8 876.2,530.2 877.2,523.1 878.2,527.4 879.2,522.1 880.2,523.8" fill="none" stroke="#32c832" stroke-width="3.20" stroke-linejoin="round" stroke-linecap="round"/><polyline points="529.9,676.0 530.5,677.0 531.1,676.4 531.7,677.6 532.5,676.5 533.4,678.3 534.2,678.4 535.0,678.0 535.9,676.7 536.7,678.6 537.5,677.4 538.4,677.7 539.2,677.2 540.0,676.4 540.9,676.7 541.7,675.7 542.5,675.5 543.3,676.2 544.2,675.4 545.0,675.9 545.8,675.0 546.7,676.2 547.5,674.0 548.3,676.0 549.1,674.0 550.0,673.3 550.8,675.3 551.6,673.3 552.5,675.3 553.3,674.1 554.1,674.0 555.0,673.4 555.8,671.5 556.6,671.0 557.5,669.6 558.3,669.9 559.2,668.0 560.0,666.8 560.8,667.6 561.7,665.3 562.5,664.0 563.4,664.3 564.2,662.1 565.0,662.2 565.9,660.4 566.7,660.3 567.5,657.6 568.4,656.2 569.2,655.6 570.0,652.9 570.8,650.7 571.6,650.7 572.5,647.7 573.3,647.4 574.1,644.5 575.0,644.8 575.8,641.9 576.6,641.8 577.5,638.6 578.3,638.3 579.2,635.8 580.0,635.5 580.8,632.9 581.7,632.9 582.5,630.0 583.4,628.1 584.2,628.1 585.0,624.5 585.9,623.9 586.7,620.6 587.5,620.3 588.4,616.9 589.2,616.8 590.0,615.2 590.8,612.4 591.6,610.6 592.5,610.2 593.3,607.1 594.1,607.2 595.0,604.9 595.8,605.5 596.6,602.4 597.5,602.8 598.3,600.3 599.2,600.5 600.0,597.9 600.8,598.5 601.7,596.2 602.5,595.8 603.4,593.9 604.2,593.0 605.0,591.7 605.9,592.2 606.7,590.3 607.5,589.1 608.4,587.2 609.2,586.9 610.0,584.6 610.8,584.4 611.6,582.2 612.5,581.7 613.3,579.7 614.1,577.9 614.9,578.1 615.7,575.4 616.5,574.0 617.4,572.8 618.2,571.0 619.1,569.8 620.0,569.6 620.8,567.9 621.7,565.2 622.5,564.9 623.4,561.7 624.2,561.6 625.0,558.7 625.9,557.1 626.7,557.5 627.5,555.3 628.4,555.9 629.2,554.9 630.0,552.1 630.9,552.5 631.7,549.8 632.5,551.3 633.4,549.0 634.2,550.4 635.0,548.5 635.9,549.9 636.7,547.6 637.5,548.4 638.4,546.9 639.2,547.3 640.0,545.5 640.9,545.2 641.7,543.4 642.5,542.2 643.4,539.5 644.2,537.8 645.0,536.7 645.8,534.1 646.6,533.2 647.5,531.4 648.3,529.9 649.1,528.6 650.0,528.9 650.8,528.2 651.6,525.6 652.5,526.8 653.3,524.2 654.2,524.7 655.0,522.3 655.8,522.8 656.7,521.0 657.5,518.6 658.3,518.8 659.2,515.9 660.0,515.7 660.8,514.9 661.7,513.0 662.5,513.5 663.4,511.5 664.2,512.3 665.0,510.1 665.9,510.5 666.7,509.1 667.5,510.0 668.4,508.1 669.2,509.1 670.0,507.4 670.9,507.9 671.7,507.0 672.5,504.7 673.4,504.0 674.2,502.6 675.0,499.7 675.9,498.9 676.7,496.9 677.5,496.3 678.4,494.5 679.2,492.5 680.0,492.5 680.8,491.2 681.6,489.1 682.5,489.2 683.3,486.2 684.1,484.9 685.0,485.1 685.8,484.5 686.6,482.2 687.5,482.4 688.3,480.3 689.2,480.2 690.0,477.8 690.8,478.1 691.7,476.3 692.5,475.7 693.4,475.0 694.2,473.7 695.0,472.5 695.9,472.6 696.7,470.0 697.5,470.2 698.4,467.4 699.2,468.2 700.0,465.3 700.8,465.0 701.6,462.8 702.5,463.1 703.3,460.9 704.1,460.7 705.0,458.7 705.8,458.3 706.6,455.9 707.5,455.5 708.3,454.3 709.2,451.9 710.0,452.1 710.8,450.5 711.7,450.7 712.5,449.3 713.4,448.5 714.2,448.9 715.0,448.1 715.9,448.3 716.7,446.8 717.6,447.0 718.5,445.3 719.4,447.0 720.3,447.0 721.2,444.5 722.0,444.7 722.9,444.6 723.8,443.9 724.7,444.2 725.6,443.1 726.5,443.7 727.4,442.6 728.2,444.4 729.1,442.3 730.0,443.0 730.9,441.6 731.8,443.1 732.6,441.8 733.5,442.7 734.4,441.4 735.3,441.3 736.2,442.5 737.1,440.6 738.0,441.9 738.8,440.5 739.7,441.6 740.6,441.4 741.5,440.8 742.4,440.7 743.3,440.0 744.2,441.0 745.1,439.5 746.0,440.1 746.9,438.9 747.8,439.0 748.6,438.0 749.5,437.6 750.4,437.1 751.3,436.5 752.2,437.3 753.1,435.2 754.0,437.2 754.9,434.9 755.8,434.8 756.7,435.7 757.5,434.3 758.4,435.4 759.3,433.4 760.2,434.9 761.1,432.8 762.0,434.3 762.9,433.8 763.8,435.3 764.7,433.2 765.5,434.9 766.4,434.2 767.3,432.5 768.2,433.9 769.1,433.8 770.0,432.6 770.9,433.9 771.8,432.2 772.7,434.2 773.6,432.4 774.5,434.3 775.3,432.6 776.2,434.1 777.1,432.0 778.0,433.7 778.9,431.4 779.8,432.9 780.7,430.5 781.6,432.1 782.5,431.8 783.3,429.6 784.2,429.8 785.1,429.1 786.0,430.1 786.9,428.5 787.8,428.6 788.6,430.9 789.5,428.5 790.4,429.9 791.2,428.3 792.1,429.9 793.0,429.4 793.9,427.2 794.8,428.6 795.6,428.3 796.5,426.6 797.4,428.2 798.2,426.1 799.1,427.8 800.0,428.1 800.9,425.7 801.8,427.5 802.6,427.1 803.5,427.6 804.4,427.0 805.3,428.4 806.2,426.4 807.1,428.5 807.9,427.1 808.8,428.0 809.7,427.5 810.6,428.2 811.5,427.2 812.4,429.0 813.2,427.4 814.1,429.4 815.0,427.7 815.9,428.9 816.8,428.4 817.6,429.7 818.5,428.8 819.4,428.4 820.2,430.7 821.1,431.1 822.0,431.7 822.8,430.7 823.7,432.2 824.5,430.8 825.3,432.2 826.1,431.9 827.0,433.4 827.8,432.6 828.7,432.8 829.6,432.4 830.5,433.4 831.4,432.1 832.2,433.6 833.1,432.2 834.0,433.7 834.9,432.7 835.8,434.6 836.7,433.1 837.6,433.5 838.5,433.9 839.4,435.0 840.3,434.0 841.2,434.7 842.0,434.4 842.9,434.9 843.8,434.0 844.7,436.1 845.6,433.8 846.5,436.2 847.4,435.9 848.3,435.3 849.1,433.8 850.0,435.1 850.9,434.6 851.8,435.5 852.7,435.5 853.6,435.8 854.5,436.2 855.4,436.7 856.2,435.9 857.1,436.5 858.0,435.3 858.9,436.4 859.8,435.5 860.7,437.0 861.6,436.0 862.5,437.6 863.3,436.3 864.2,437.3 865.1,436.7 866.0,437.5 866.9,436.7 867.8,438.2 868.7,438.5 869.5,438.5 870.4,437.1 871.2,437.9 872.1,436.9 872.9,438.4 873.8,438.6 874.6,437.3 875.5,438.2 876.3,437.2 877.2,437.5 878.0,437.2 878.9,437.4 879.5,437.0 880.2,437.2" fill="none" stroke="#c86400" stroke-width="3.30" stroke-linejoin="round" stroke-linecap="round"/><polyline points="529.9,675.1 530.5,673.7 531.1,674.4 531.7,672.6 532.5,673.9 533.4,671.3 534.2,670.8 535.0,671.1 535.9,669.4 536.7,669.1 537.5,668.4 538.4,670.2 539.2,667.8 540.0,669.0 540.9,667.3 541.7,668.9 542.5,665.7 543.4,666.9 544.2,664.6 545.0,665.3 545.9,664.8 546.7,664.6 547.5,664.7 548.4,664.4 549.2,663.4 550.0,665.2 550.9,665.3 551.7,666.2 552.5,664.8 553.4,664.2 554.2,665.3 555.0,662.9 555.9,663.4 556.7,662.3 557.5,662.4 558.4,659.7 559.2,659.9 560.0,658.7 560.9,658.2 561.7,656.2 562.5,654.4 563.4,652.0 564.2,650.7 565.0,648.6 565.9,648.2 566.7,645.2 567.5,642.0 568.4,639.7 569.2,635.2 570.0,634.5 570.9,629.9 571.7,629.1 572.5,624.6 573.4,622.1 574.2,619.0 575.0,614.3 575.9,611.4 576.7,609.4 577.5,604.5 578.4,603.1 579.2,598.5 580.0,596.9 580.9,593.3 581.7,590.9 582.5,588.7 583.4,584.9 584.2,584.0 585.0,579.7 585.9,577.2 586.7,574.3 587.5,573.4 588.4,571.2 589.2,566.1 590.0,565.6 590.9,562.9 591.7,558.7 592.5,560.1 593.4,558.3 594.2,554.8 595.0,554.4 595.9,553.8 596.7,551.3 597.5,551.4 598.4,548.4 599.2,548.9 600.0,545.8 600.9,546.6 601.7,543.2 602.5,543.2 603.4,541.4 604.2,541.7 605.0,540.9 605.9,538.2 606.7,538.9 607.5,535.8 608.4,535.6 609.2,532.7 610.0,534.0 610.9,531.1 611.7,531.2 612.5,528.4 613.4,528.9 614.2,526.5 615.0,524.7 615.9,524.9 616.7,521.9 617.5,521.9 618.4,518.7 619.2,517.8 620.0,515.1 620.9,515.6 621.7,512.7 622.5,510.9 623.4,509.2 624.2,508.7 625.0,505.2 625.9,505.3 626.7,501.2 627.5,500.7 628.4,496.2 629.2,494.9 630.0,491.0 630.8,490.8 631.7,488.2 632.5,486.5 633.3,485.0 634.2,484.0 635.0,482.1 635.8,481.2 636.7,477.8 637.5,477.5 638.3,475.0 639.2,472.7 640.0,472.2 640.8,469.3 641.7,468.7 642.5,465.7 643.3,465.0 644.2,462.7 645.0,462.9 645.8,460.8 646.7,461.4 647.5,460.2 648.3,458.1 649.2,459.0 650.0,456.8 650.8,457.8 651.7,455.3 652.5,454.4 653.4,455.7 654.2,453.0 655.0,454.2 655.9,450.8 656.7,451.7 657.5,451.5 658.4,452.0 659.2,450.4 660.0,452.8 660.8,451.2 661.6,452.9 662.5,450.7 663.3,452.6 664.1,451.0 665.0,450.6 665.8,451.9 666.6,449.8 667.5,450.6 668.3,449.4 669.2,450.0 670.0,448.4 670.8,448.5 671.7,446.9 672.5,446.7 673.3,446.1 674.2,446.5 675.0,445.5 675.8,445.2 676.7,446.4 677.5,445.9 678.3,446.7 679.2,445.7 680.0,447.5 680.8,447.2 681.7,444.7 682.5,446.7 683.4,444.2 684.2,444.0 685.0,445.3 685.9,444.1 686.7,442.9 687.5,444.7 688.4,443.2 689.2,444.0 690.0,445.2 690.8,444.1 691.6,444.5 692.5,443.8 693.3,442.7 694.1,444.3 694.9,443.1 695.7,444.5 696.5,443.5 697.3,444.1 698.1,444.2 698.9,444.1 699.7,444.4 700.5,445.6 701.3,445.6 702.0,447.5 702.8,446.2 703.6,447.0 704.4,448.6 705.3,446.4 706.1,447.2 707.0,444.6 707.9,445.9 708.7,443.2 709.6,444.6 710.5,442.6 711.3,443.8 712.2,441.8 713.1,442.9 713.9,440.8 714.8,442.9 715.6,440.5 716.5,442.0 717.3,440.7 718.2,441.0 719.0,439.7 719.9,440.9 720.7,439.1 721.6,440.4 722.4,439.2 723.3,439.6 724.2,438.7 725.1,439.9 726.0,439.4 726.9,437.8 727.8,437.6 728.6,438.6 729.5,437.2 730.4,438.3 731.3,437.1 732.2,438.4 733.0,437.9 733.9,436.1 734.7,436.4 735.5,434.9 736.4,435.8 737.2,434.2 738.1,434.8 738.9,433.5 739.8,434.6 740.7,432.9 741.6,431.8 742.5,433.7 743.3,434.2 744.2,432.0 745.1,434.3 746.0,432.6 746.9,433.3 747.8,431.9 748.7,432.6 749.5,430.5 750.4,431.3 751.3,429.7 752.1,430.3 753.0,427.8" fill="none" stroke="#c8287d" stroke-width="3.30" stroke-linejoin="round" stroke-linecap="round"/></g>
<g stroke="#000" stroke-width="2.80" fill="none"><path d="M201.80 131.50v7.90M201.80 421.30v-7.90"/><path d="M236.80 131.50v14.40M236.80 421.30v-14.40"/><path d="M271.80 131.50v7.90M271.80 421.30v-7.90"/><path d="M306.80 131.50v14.40M306.80 421.30v-14.40"/><path d="M341.80 131.50v7.90M341.80 421.30v-7.90"/><path d="M376.80 131.50v14.40M376.80 421.30v-14.40"/><path d="M411.80 131.50v7.90M411.80 421.30v-7.90"/><path d="M446.80 131.50v14.40M446.80 421.30v-14.40"/><path d="M481.80 131.50v7.90M481.80 421.30v-7.90"/><path d="M166.80 375.70h14.40M517.00 375.70h-14.40"/><path d="M166.80 330.05h7.90M517.00 330.05h-7.90"/><path d="M166.80 284.40h14.40M517.00 284.40h-14.40"/><path d="M166.80 238.75h7.90M517.00 238.75h-7.90"/><path d="M166.80 193.10h14.40M517.00 193.10h-14.40"/><path d="M166.80 147.45h7.90M517.00 147.45h-7.90"/></g>
<g stroke="#000" stroke-width="2.80" fill="none"><path d="M564.90 131.50v7.90M564.90 421.30v-7.90"/><path d="M599.90 131.50v14.40M599.90 421.30v-14.40"/><path d="M634.90 131.50v7.90M634.90 421.30v-7.90"/><path d="M669.90 131.50v14.40M669.90 421.30v-14.40"/><path d="M704.90 131.50v7.90M704.90 421.30v-7.90"/><path d="M739.90 131.50v14.40M739.90 421.30v-14.40"/><path d="M774.90 131.50v7.90M774.90 421.30v-7.90"/><path d="M809.90 131.50v14.40M809.90 421.30v-14.40"/><path d="M844.90 131.50v7.90M844.90 421.30v-7.90"/><path d="M529.90 375.70h14.40M880.20 375.70h-14.40"/><path d="M529.90 330.05h7.90M880.20 330.05h-7.90"/><path d="M529.90 284.40h14.40M880.20 284.40h-14.40"/><path d="M529.90 238.75h7.90M880.20 238.75h-7.90"/><path d="M529.90 193.10h14.40M880.20 193.10h-14.40"/><path d="M529.90 147.45h7.90M880.20 147.45h-7.90"/></g>
<g stroke="#000" stroke-width="2.80" fill="none"><path d="M201.80 431.90v7.90M201.80 721.70v-7.90"/><path d="M236.80 431.90v14.40M236.80 721.70v-14.40"/><path d="M271.80 431.90v7.90M271.80 721.70v-7.90"/><path d="M306.80 431.90v14.40M306.80 721.70v-14.40"/><path d="M341.80 431.90v7.90M341.80 721.70v-7.90"/><path d="M376.80 431.90v14.40M376.80 721.70v-14.40"/><path d="M411.80 431.90v7.90M411.80 721.70v-7.90"/><path d="M446.80 431.90v14.40M446.80 721.70v-14.40"/><path d="M481.80 431.90v7.90M481.80 721.70v-7.90"/><path d="M166.80 676.10h14.40M517.00 676.10h-14.40"/><path d="M166.80 630.45h7.90M517.00 630.45h-7.90"/><path d="M166.80 584.80h14.40M517.00 584.80h-14.40"/><path d="M166.80 539.15h7.90M517.00 539.15h-7.90"/><path d="M166.80 493.50h14.40M517.00 493.50h-14.40"/><path d="M166.80 447.85h7.90M517.00 447.85h-7.90"/></g>
<g stroke="#000" stroke-width="2.80" fill="none"><path d="M564.90 431.90v7.90M564.90 721.70v-7.90"/><path d="M599.90 431.90v14.40M599.90 721.70v-14.40"/><path d="M634.90 431.90v7.90M634.90 721.70v-7.90"/><path d="M669.90 431.90v14.40M669.90 721.70v-14.40"/><path d="M704.90 431.90v7.90M704.90 721.70v-7.90"/><path d="M739.90 431.90v14.40M739.90 721.70v-14.40"/><path d="M774.90 431.90v7.90M774.90 721.70v-7.90"/><path d="M809.90 431.90v14.40M809.90 721.70v-14.40"/><path d="M844.90 431.90v7.90M844.90 721.70v-7.90"/><path d="M529.90 676.10h14.40M880.20 676.10h-14.40"/><path d="M529.90 630.45h7.90M880.20 630.45h-7.90"/><path d="M529.90 584.80h14.40M880.20 584.80h-14.40"/><path d="M529.90 539.15h7.90M880.20 539.15h-7.90"/><path d="M529.90 493.50h14.40M880.20 493.50h-14.40"/><path d="M529.90 447.85h7.90M880.20 447.85h-7.90"/></g>
<rect x="166.80" y="131.50" width="350.20" height="289.80" fill="none" stroke="#000" stroke-width="2.80" stroke-linejoin="round"/>
<rect x="529.90" y="131.50" width="350.30" height="289.80" fill="none" stroke="#000" stroke-width="2.80" stroke-linejoin="round"/>
<rect x="166.80" y="431.90" width="350.20" height="289.80" fill="none" stroke="#000" stroke-width="2.80" stroke-linejoin="round"/>
<rect x="529.90" y="431.90" width="350.30" height="289.80" fill="none" stroke="#000" stroke-width="2.80" stroke-linejoin="round"/>
<g opacity="0.999">
<text transform="translate(101.14 201.40) scale(0.9915 1)" font-size="24.33" fill="#000" stroke="#000" stroke-width="0.35" stroke-linejoin="round" style="font-family:'Liberation Sans',sans-serif;font-weight:bold">2000</text>
<text transform="translate(102.85 293.64) scale(0.9702 1)" font-size="24.12" fill="#000" stroke="#000" stroke-width="0.35" stroke-linejoin="round" style="font-family:'Liberation Sans',sans-serif;font-weight:bold">1000</text>
<text transform="translate(140.77 384.39) scale(1.1422 1)" font-size="22.17" fill="#000" stroke="#000" stroke-width="0.35" stroke-linejoin="round" style="font-family:'Liberation Sans',sans-serif;font-weight:bold">0</text>
<text transform="translate(101.14 501.96) scale(0.9915 1)" font-size="24.33" fill="#000" stroke="#000" stroke-width="0.35" stroke-linejoin="round" style="font-family:'Liberation Sans',sans-serif;font-weight:bold">2000</text>
<text transform="translate(102.85 593.40) scale(0.9702 1)" font-size="24.12" fill="#000" stroke="#000" stroke-width="0.35" stroke-linejoin="round" style="font-family:'Liberation Sans',sans-serif;font-weight:bold">1000</text>
<text transform="translate(140.77 684.95) scale(1.1422 1)" font-size="22.17" fill="#000" stroke="#000" stroke-width="0.35" stroke-linejoin="round" style="font-family:'Liberation Sans',sans-serif;font-weight:bold">0</text>
<text transform="translate(159.72 748.95) scale(1.1649 1)" font-size="22.18" fill="#000" stroke="#000" stroke-width="0.35" stroke-linejoin="round" style="font-family:'Liberation Sans',sans-serif;font-weight:bold">0</text>
<text transform="translate(218.89 749.42) scale(0.9485 1)" font-size="24.12" fill="#000" stroke="#000" stroke-width="0.35" stroke-linejoin="round" style="font-family:'Liberation Sans',sans-serif;font-weight:bold">100</text>
<text transform="translate(287.37 749.42) scale(0.9833 1)" font-size="24.28" fill="#000" stroke="#000" stroke-width="0.35" stroke-linejoin="round" style="font-family:'Liberation Sans',sans-serif;font-weight:bold">200</text>
<text transform="translate(357.58 749.43) scale(0.9748 1)" font-size="24.31" fill="#000" stroke="#000" stroke-width="0.35" stroke-linejoin="round" style="font-family:'Liberation Sans',sans-serif;font-weight:bold">300</text>
<text transform="translate(427.85 749.42) scale(0.9788 1)" font-size="24.12" fill="#000" stroke="#000" stroke-width="0.35" stroke-linejoin="round" style="font-family:'Liberation Sans',sans-serif;font-weight:bold">400</text>
<text transform="translate(522.77 748.95) scale(1.1422 1)" font-size="22.17" fill="#000" stroke="#000" stroke-width="0.35" stroke-linejoin="round" style="font-family:'Liberation Sans',sans-serif;font-weight:bold">0</text>
<text transform="translate(581.89 749.42) scale(0.9485 1)" font-size="24.12" fill="#000" stroke="#000" stroke-width="0.35" stroke-linejoin="round" style="font-family:'Liberation Sans',sans-serif;font-weight:bold">100</text>
<text transform="translate(650.37 749.42) scale(0.9833 1)" font-size="24.28" fill="#000" stroke="#000" stroke-width="0.35" stroke-linejoin="round" style="font-family:'Liberation Sans',sans-serif;font-weight:bold">200</text>
<text transform="translate(720.58 749.43) scale(0.9748 1)" font-size="24.31" fill="#000" stroke="#000" stroke-width="0.35" stroke-linejoin="round" style="font-family:'Liberation Sans',sans-serif;font-weight:bold">300</text>
<text transform="translate(790.85 749.42) scale(0.9788 1)" font-size="24.12" fill="#000" stroke="#000" stroke-width="0.35" stroke-linejoin="round" style="font-family:'Liberation Sans',sans-serif;font-weight:bold">400</text>
<text transform="translate(859.88 749.50) scale(1.0000 1)" font-size="24.27" fill="#000" stroke="#000" stroke-width="0.35" stroke-linejoin="round" style="font-family:'Liberation Sans',sans-serif;font-weight:bold">500</text>
<text transform="translate(290.77 785.60) scale(0.9777 1)" font-size="26.30" fill="#000" stroke="#000" stroke-width="0.60" stroke-linejoin="round" style="font-family:'Liberation Serif',serif;font-weight:bold">Time</text>
<text transform="translate(360.21 785.60) scale(1.0134 1)" font-size="26.30" fill="#000" stroke="#000" stroke-width="0.60" stroke-linejoin="round" style="font-family:'Liberation Serif',serif;font-weight:bold">(yr)</text>
<text transform="translate(654.60 785.60) scale(0.9752 1)" font-size="26.30" fill="#000" stroke="#000" stroke-width="0.60" stroke-linejoin="round" style="font-family:'Liberation Serif',serif;font-weight:bold">Time</text>
<text transform="translate(724.19 785.60) scale(1.0104 1)" font-size="26.30" fill="#000" stroke="#000" stroke-width="0.60" stroke-linejoin="round" style="font-family:'Liberation Serif',serif;font-weight:bold">(yr)</text>
<text transform="translate(187.19 173.22) scale(1.1041 1)" font-size="19.71" fill="#cd64c8" stroke="#cd64c8" stroke-width="0.00" stroke-linejoin="round" style="font-family:'Liberation Sans',sans-serif;font-weight:bold">3</text>
<text transform="translate(207.09 173.30) scale(1.1273 1)" font-size="19.70" fill="#cd64c8" stroke="#cd64c8" stroke-width="0.00" stroke-linejoin="round" style="font-family:'Liberation Sans',sans-serif;font-weight:bold">km</text>
<text transform="translate(274.89 219.78) scale(1.1483 1)" font-size="19.70" fill="#3232ff" stroke="#3232ff" stroke-width="0.00" stroke-linejoin="round" style="font-family:'Liberation Sans',sans-serif;font-weight:bold">5</text>
<text transform="translate(295.12 219.70) scale(1.1122 1)" font-size="19.70" fill="#3232ff" stroke="#3232ff" stroke-width="0.00" stroke-linejoin="round" style="font-family:'Liberation Sans',sans-serif;font-weight:bold">km</text>
<text transform="translate(344.91 271.78) scale(1.1006 1)" font-size="19.71" fill="#64c8c8" stroke="#64c8c8" stroke-width="0.00" stroke-linejoin="round" style="font-family:'Liberation Sans',sans-serif;font-weight:bold">7</text>
<text transform="translate(364.99 271.70) scale(1.0941 1)" font-size="19.70" fill="#64c8c8" stroke="#64c8c8" stroke-width="0.00" stroke-linejoin="round" style="font-family:'Liberation Sans',sans-serif;font-weight:bold">km</text>
<text transform="translate(382.92 300.37) scale(1.1417 1)" font-size="19.79" fill="#32c832" stroke="#32c832" stroke-width="0.00" stroke-linejoin="round" style="font-family:'Liberation Sans',sans-serif;font-weight:bold">8</text>
<text transform="translate(403.87 300.80) scale(1.1046 1)" font-size="19.70" fill="#32c832" stroke="#32c832" stroke-width="0.00" stroke-linejoin="round" style="font-family:'Liberation Sans',sans-serif;font-weight:bold">km</text>
<text transform="translate(413.30 343.44) scale(0.9840 1)" font-size="19.70" fill="#c86400" stroke="#c86400" stroke-width="0.00" stroke-linejoin="round" style="font-family:'Liberation Sans',sans-serif;font-weight:bold">10</text>
<text transform="translate(443.78 343.60) scale(1.0863 1)" font-size="19.70" fill="#c86400" stroke="#c86400" stroke-width="0.00" stroke-linejoin="round" style="font-family:'Liberation Sans',sans-serif;font-weight:bold">km</text>
<text transform="translate(201.06 476.00) scale(1.0578 1)" font-size="19.50" fill="#c8287d" stroke="#c8287d" stroke-width="0.00" stroke-linejoin="round" style="font-family:'Liberation Sans',sans-serif;font-weight:bold">60</text>
<text transform="translate(233.49 476.00) scale(0.9635 1)" font-size="19.50" fill="#c8287d" stroke="#c8287d" stroke-width="0.00" stroke-linejoin="round" style="font-family:'Liberation Sans',sans-serif;font-weight:bold">R</text>
<text transform="translate(246.40 481.60) scale(0.9106 1)" font-size="13.40" fill="#c8287d" stroke="#c8287d" stroke-width="0.00" stroke-linejoin="round" style="font-family:'Liberation Sans',sans-serif;font-weight:bold">P</text>
<text transform="translate(296.40 536.90) scale(1.0153 1)" font-size="19.50" fill="#c86400" stroke="#c86400" stroke-width="0.00" stroke-linejoin="round" style="font-family:'Liberation Sans',sans-serif;font-weight:bold">40</text>
<text transform="translate(327.84 536.90) scale(0.9562 1)" font-size="19.50" fill="#c86400" stroke="#c86400" stroke-width="0.00" stroke-linejoin="round" style="font-family:'Liberation Sans',sans-serif;font-weight:bold">R</text>
<text transform="translate(340.28 542.50) scale(0.9841 1)" font-size="13.40" fill="#c86400" stroke="#c86400" stroke-width="0.00" stroke-linejoin="round" style="font-family:'Liberation Sans',sans-serif;font-weight:bold">P</text>
<text transform="translate(383.37 597.90) scale(1.0584 1)" font-size="19.50" fill="#32c832" stroke="#32c832" stroke-width="0.00" stroke-linejoin="round" style="font-family:'Liberation Sans',sans-serif;font-weight:bold">20</text>
<text transform="translate(416.12 597.90) scale(0.9734 1)" font-size="19.50" fill="#32c832" stroke="#32c832" stroke-width="0.00" stroke-linejoin="round" style="font-family:'Liberation Sans',sans-serif;font-weight:bold">R</text>
<text transform="translate(428.82 603.50) scale(0.8881 1)" font-size="13.40" fill="#32c832" stroke="#32c832" stroke-width="0.00" stroke-linejoin="round" style="font-family:'Liberation Sans',sans-serif;font-weight:bold">P</text>
<text transform="translate(197.20 396.80) scale(1.0729 1)" font-size="19.50" fill="#000" stroke="#000" stroke-width="0.00" stroke-linejoin="round" style="font-family:'Liberation Sans',sans-serif;font-weight:bold">no</text>
<text transform="translate(231.56 396.80) scale(1.0841 1)" font-size="19.50" fill="#000" stroke="#000" stroke-width="0.00" stroke-linejoin="round" style="font-family:'Liberation Sans',sans-serif;font-weight:bold">binary,</text>
<text transform="translate(560.86 396.80) scale(1.0379 1)" font-size="19.50" fill="#000" stroke="#000" stroke-width="0.00" stroke-linejoin="round" style="font-family:'Liberation Sans',sans-serif;font-weight:bold">a</text>
<text transform="translate(572.85 402.00) scale(0.8281 1)" font-size="13.40" fill="#000" stroke="#000" stroke-width="0.00" stroke-linejoin="round" style="font-family:'Liberation Sans',sans-serif;font-weight:bold">PC</text>
<text transform="translate(597.42 396.80) scale(1.0961 1)" font-size="19.50" fill="#000" stroke="#000" stroke-width="0.00" stroke-linejoin="round" style="font-family:'Liberation Sans',sans-serif;font-weight:bold">=</text>
<text transform="translate(619.89 396.80) scale(1.0752 1)" font-size="19.50" fill="#000" stroke="#000" stroke-width="0.00" stroke-linejoin="round" style="font-family:'Liberation Sans',sans-serif;font-weight:bold">5</text>
<text transform="translate(640.97 396.80) scale(1.0336 1)" font-size="19.50" fill="#000" stroke="#000" stroke-width="0.00" stroke-linejoin="round" style="font-family:'Liberation Sans',sans-serif;font-weight:bold">R</text>
<text transform="translate(654.59 402.00) scale(0.9948 1)" font-size="13.40" fill="#000" stroke="#000" stroke-width="0.00" stroke-linejoin="round" style="font-family:'Liberation Sans',sans-serif;font-weight:bold">P</text>
<text transform="translate(662.62 396.80) scale(1.0356 1)" font-size="19.50" fill="#000" stroke="#000" stroke-width="0.00" stroke-linejoin="round" style="font-family:'Liberation Sans',sans-serif;font-weight:bold">,</text>
<text transform="translate(197.20 697.10) scale(1.0729 1)" font-size="19.50" fill="#000" stroke="#000" stroke-width="0.00" stroke-linejoin="round" style="font-family:'Liberation Sans',sans-serif;font-weight:bold">no</text>
<text transform="translate(231.56 697.10) scale(1.0841 1)" font-size="19.50" fill="#000" stroke="#000" stroke-width="0.00" stroke-linejoin="round" style="font-family:'Liberation Sans',sans-serif;font-weight:bold">binary,</text>
<text transform="translate(560.86 697.10) scale(1.0379 1)" font-size="19.50" fill="#000" stroke="#000" stroke-width="0.00" stroke-linejoin="round" style="font-family:'Liberation Sans',sans-serif;font-weight:bold">a</text>
<text transform="translate(572.85 702.30) scale(0.8281 1)" font-size="13.40" fill="#000" stroke="#000" stroke-width="0.00" stroke-linejoin="round" style="font-family:'Liberation Sans',sans-serif;font-weight:bold">PC</text>
<text transform="translate(597.42 697.10) scale(1.0961 1)" font-size="19.50" fill="#000" stroke="#000" stroke-width="0.00" stroke-linejoin="round" style="font-family:'Liberation Sans',sans-serif;font-weight:bold">=</text>
<text transform="translate(619.89 697.10) scale(1.0752 1)" font-size="19.50" fill="#000" stroke="#000" stroke-width="0.00" stroke-linejoin="round" style="font-family:'Liberation Sans',sans-serif;font-weight:bold">5</text>
<text transform="translate(640.97 697.10) scale(1.0336 1)" font-size="19.50" fill="#000" stroke="#000" stroke-width="0.00" stroke-linejoin="round" style="font-family:'Liberation Sans',sans-serif;font-weight:bold">R</text>
<text transform="translate(654.59 702.30) scale(0.9948 1)" font-size="13.40" fill="#000" stroke="#000" stroke-width="0.00" stroke-linejoin="round" style="font-family:'Liberation Sans',sans-serif;font-weight:bold">P</text>
<text transform="translate(662.62 697.10) scale(1.0356 1)" font-size="19.50" fill="#000" stroke="#000" stroke-width="0.00" stroke-linejoin="round" style="font-family:'Liberation Sans',sans-serif;font-weight:bold">,</text>
<text transform="translate(308.35 396.80) scale(1.0407 1)" font-size="19.50" fill="#000" stroke="#000" stroke-width="0.00" stroke-linejoin="round" style="font-family:'Liberation Sans',sans-serif;font-weight:bold">a</text>
<text transform="translate(330.77 396.80) scale(1.1222 1)" font-size="19.50" fill="#000" stroke="#000" stroke-width="0.00" stroke-linejoin="round" style="font-family:'Liberation Sans',sans-serif;font-weight:bold">=</text>
<text transform="translate(353.07 396.80) scale(1.0790 1)" font-size="19.50" fill="#000" stroke="#000" stroke-width="0.00" stroke-linejoin="round" style="font-family:'Liberation Sans',sans-serif;font-weight:bold">20</text>
<text transform="translate(385.88 396.80) scale(0.9228 1)" font-size="19.50" fill="#000" stroke="#000" stroke-width="0.00" stroke-linejoin="round" style="font-family:'Liberation Sans',sans-serif;font-weight:bold">R</text>
<text transform="translate(398.08 402.00) scale(1.0126 1)" font-size="13.40" fill="#000" stroke="#000" stroke-width="0.00" stroke-linejoin="round" style="font-family:'Liberation Sans',sans-serif;font-weight:bold">P</text>
<text transform="translate(675.63 396.80) scale(1.0529 1)" font-size="19.50" fill="#000" stroke="#000" stroke-width="0.00" stroke-linejoin="round" style="font-family:'Liberation Sans',sans-serif;font-weight:bold">a</text>
<text transform="translate(698.59 396.80) scale(1.0546 1)" font-size="19.50" fill="#000" stroke="#000" stroke-width="0.00" stroke-linejoin="round" style="font-family:'Liberation Sans',sans-serif;font-weight:bold">=</text>
<text transform="translate(720.12 396.80) scale(1.0671 1)" font-size="19.50" fill="#000" stroke="#000" stroke-width="0.00" stroke-linejoin="round" style="font-family:'Liberation Sans',sans-serif;font-weight:bold">20</text>
<text transform="translate(753.31 396.80) scale(0.9858 1)" font-size="19.50" fill="#000" stroke="#000" stroke-width="0.00" stroke-linejoin="round" style="font-family:'Liberation Sans',sans-serif;font-weight:bold">R</text>
<text transform="translate(766.26 402.00) scale(0.9485 1)" font-size="13.40" fill="#000" stroke="#000" stroke-width="0.00" stroke-linejoin="round" style="font-family:'Liberation Sans',sans-serif;font-weight:bold">P</text>
<text transform="translate(309.39 697.10) scale(1.1712 1)" font-size="19.50" fill="#000" stroke="#000" stroke-width="0.00" stroke-linejoin="round" style="font-family:'Liberation Sans',sans-serif;font-weight:bold">r</text>
<text transform="translate(318.17 700.80) scale(1.1705 1)" font-size="10.60" fill="#000" stroke="#000" stroke-width="0.00" stroke-linejoin="round" style="font-family:'Liberation Sans',sans-serif;font-weight:bold">phys</text>
<text transform="translate(355.75 697.10) scale(1.1523 1)" font-size="19.50" fill="#000" stroke="#000" stroke-width="0.00" stroke-linejoin="round" style="font-family:'Liberation Sans',sans-serif;font-weight:bold">=</text>
<text transform="translate(379.25 697.10) scale(1.1262 1)" font-size="19.50" fill="#000" stroke="#000" stroke-width="0.00" stroke-linejoin="round" style="font-family:'Liberation Sans',sans-serif;font-weight:bold">8</text>
<text transform="translate(399.86 697.10) scale(1.1193 1)" font-size="19.50" fill="#000" stroke="#000" stroke-width="0.00" stroke-linejoin="round" style="font-family:'Liberation Sans',sans-serif;font-weight:bold">km</text>
<text transform="translate(675.42 697.10) scale(1.3826 1)" font-size="19.50" fill="#000" stroke="#000" stroke-width="0.00" stroke-linejoin="round" style="font-family:'Liberation Sans',sans-serif;font-weight:bold">r</text>
<text transform="translate(685.49 700.80) scale(1.1777 1)" font-size="10.60" fill="#000" stroke="#000" stroke-width="0.00" stroke-linejoin="round" style="font-family:'Liberation Sans',sans-serif;font-weight:bold">phys</text>
<text transform="translate(723.91 697.10) scale(1.0932 1)" font-size="19.50" fill="#000" stroke="#000" stroke-width="0.00" stroke-linejoin="round" style="font-family:'Liberation Sans',sans-serif;font-weight:bold">=</text>
<text transform="translate(746.44 697.10) scale(1.1270 1)" font-size="19.50" fill="#000" stroke="#000" stroke-width="0.00" stroke-linejoin="round" style="font-family:'Liberation Sans',sans-serif;font-weight:bold">8</text>
<text transform="translate(766.72 697.10) scale(1.1575 1)" font-size="19.50" fill="#000" stroke="#000" stroke-width="0.00" stroke-linejoin="round" style="font-family:'Liberation Sans',sans-serif;font-weight:bold">km</text>
<text transform="translate(53.3 523.60) rotate(-90) scale(0.9678 1)" font-size="26.30" fill="#000" stroke="#000" stroke-width="0.6" stroke-linejoin="round" style="font-family:'Liberation Serif',serif;font-weight:bold">Radial</text>
<text transform="translate(53.3 438.81) rotate(-90) scale(0.9324 1)" font-size="26.30" fill="#000" stroke="#000" stroke-width="0.6" stroke-linejoin="round" style="font-family:'Liberation Serif',serif;font-weight:bold">Drift</text>
<text transform="translate(53.3 374.77) rotate(-90) scale(1.0451 1)" font-size="26.30" fill="#000" stroke="#000" stroke-width="0.6" stroke-linejoin="round" style="font-family:'Liberation Serif',serif;font-weight:bold">(km)</text>
</g>
</svg>
</body></html>
